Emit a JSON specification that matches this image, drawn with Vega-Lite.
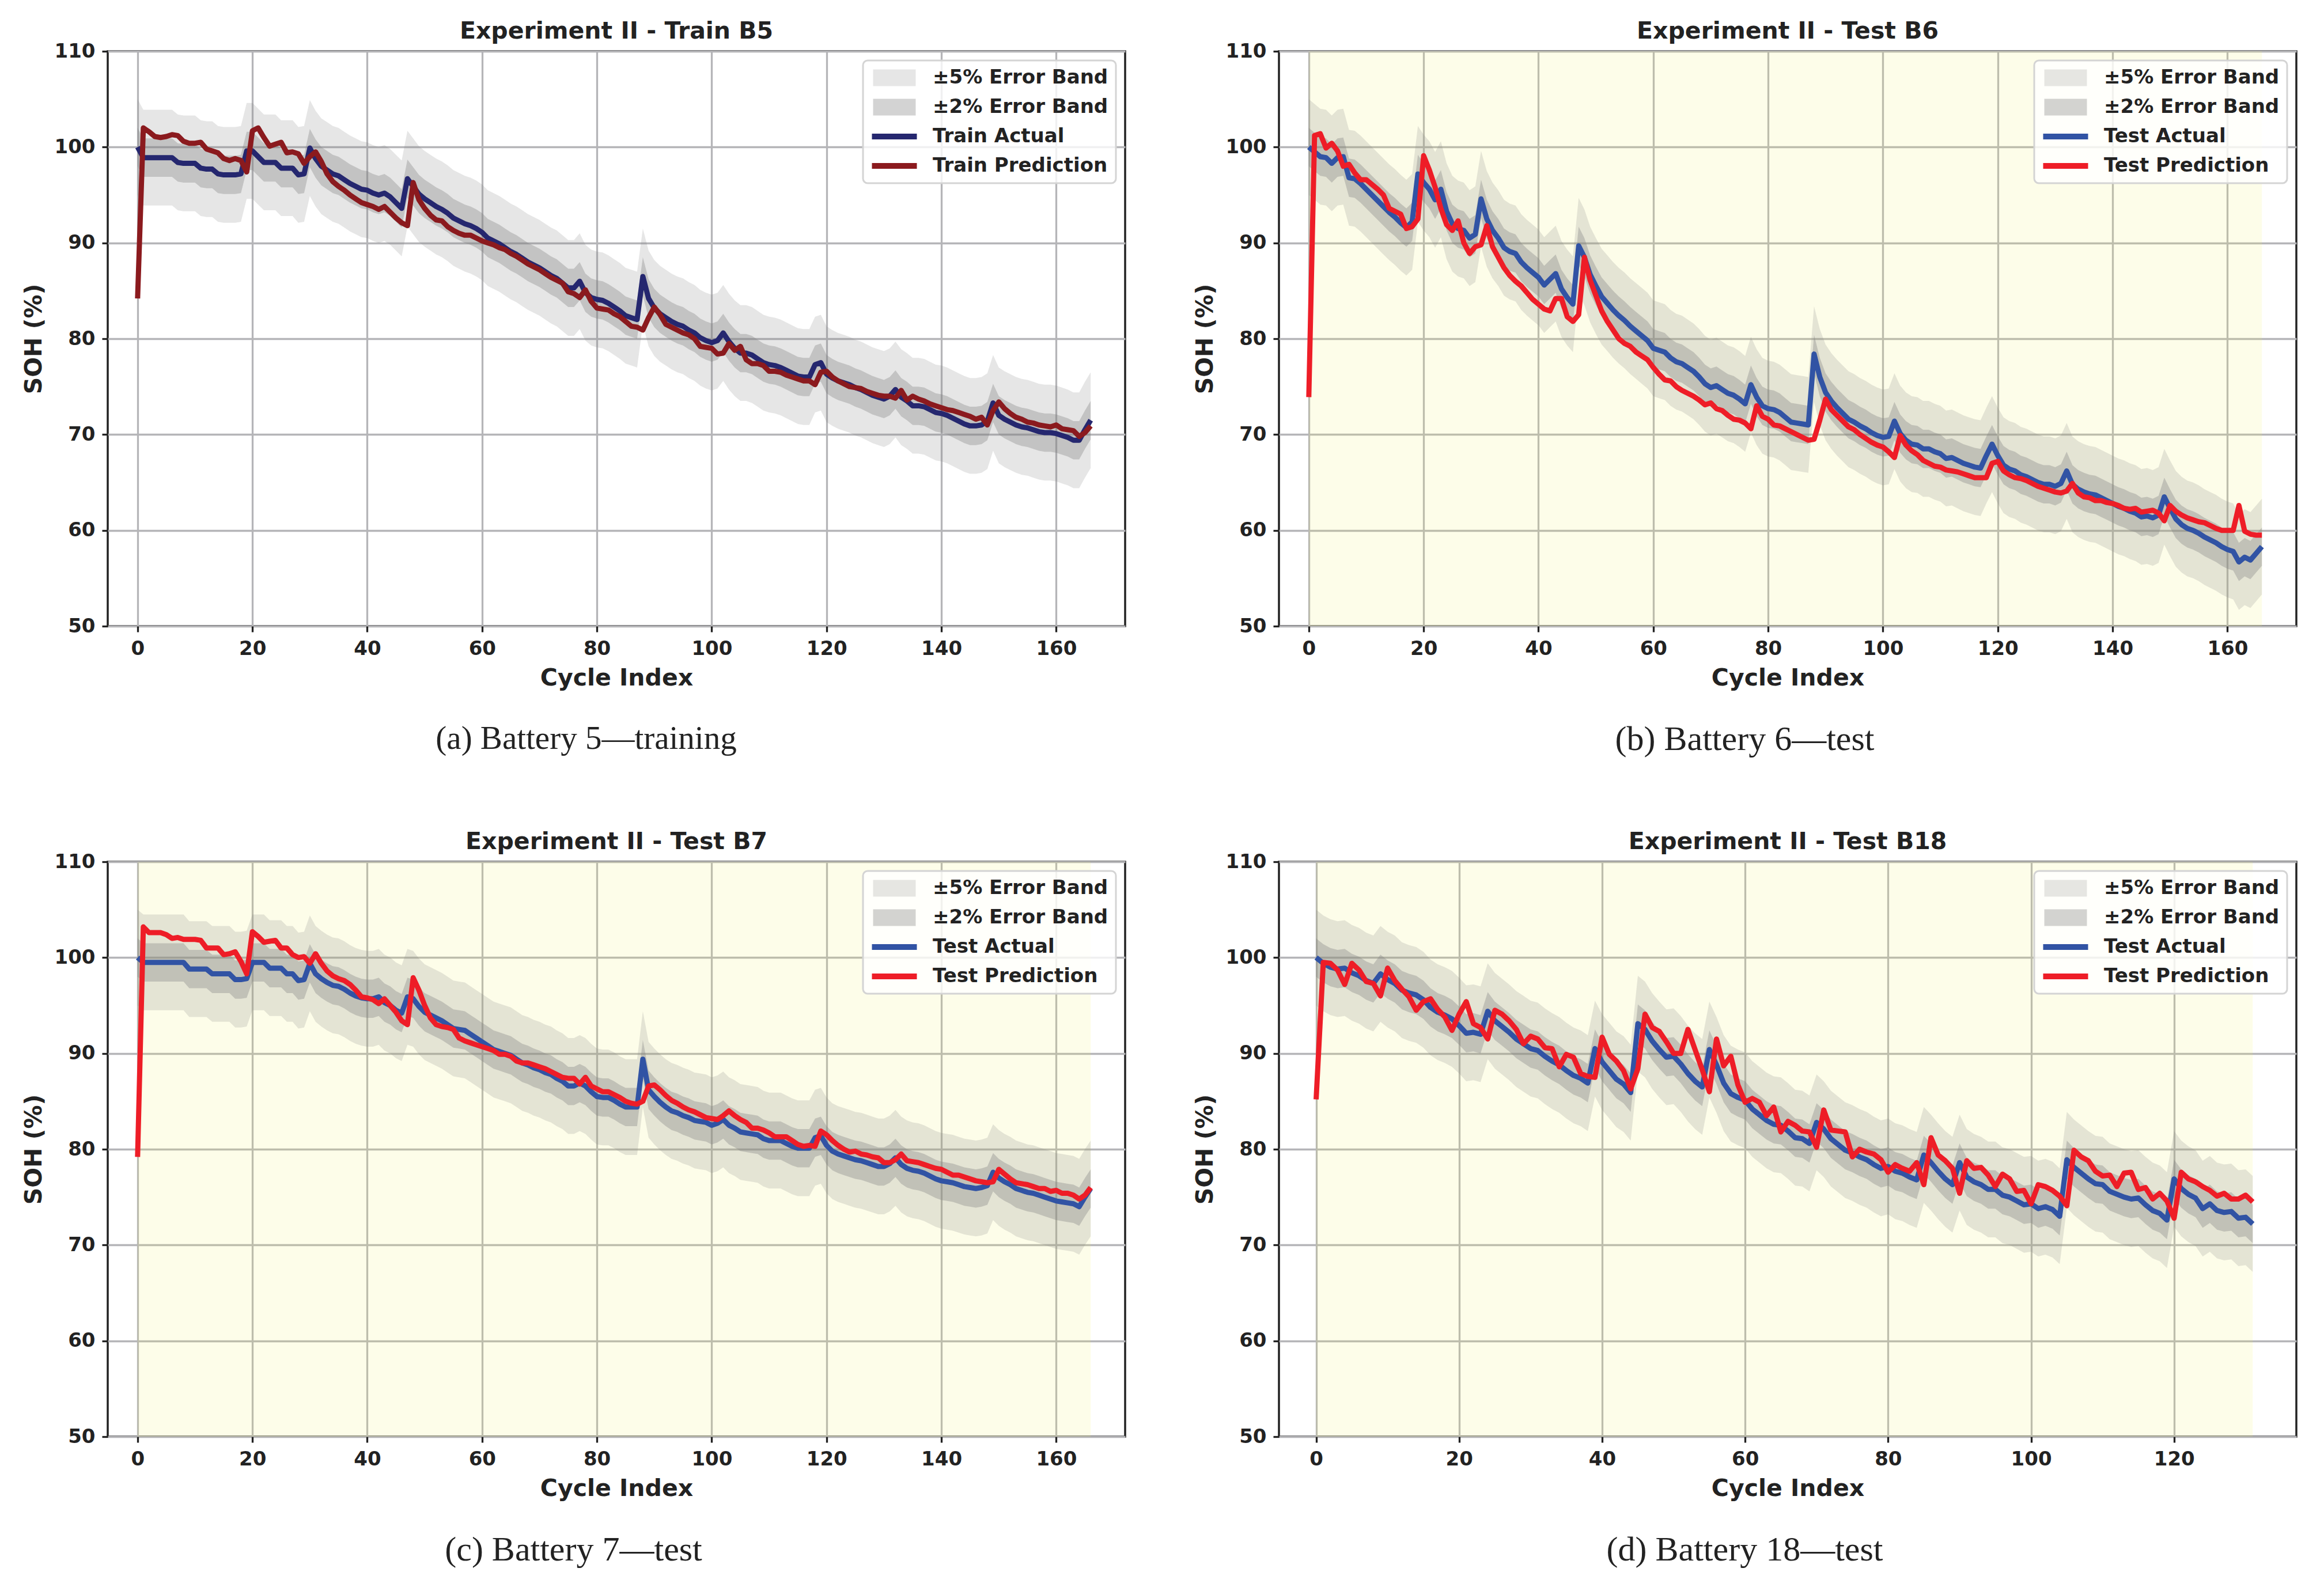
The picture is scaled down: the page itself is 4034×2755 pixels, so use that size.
{
  "$schema": "https://vega.github.io/schema/vega-lite/v6.json",
  "background": "white",
  "padding": {"left": 36, "top": 32, "right": 10, "bottom": 10},
  "datasets": {
    "A": [
      {"c":0,"a":100,"p":84.2,"l5":95,"h5":105,"l2":98,"h2":102},
      {"c":1,"a":98.9,"p":102,"l5":93.9,"h5":103.9,"l2":96.9,"h2":100.9},
      {"c":2,"a":98.9,"p":101.6,"l5":93.9,"h5":103.9,"l2":96.9,"h2":100.9},
      {"c":3,"a":98.9,"p":101.1,"l5":93.9,"h5":103.9,"l2":96.9,"h2":100.9},
      {"c":4,"a":98.9,"p":101,"l5":93.9,"h5":103.9,"l2":96.9,"h2":100.9},
      {"c":5,"a":98.9,"p":101.1,"l5":93.9,"h5":103.9,"l2":96.9,"h2":100.9},
      {"c":6,"a":98.9,"p":101.3,"l5":93.9,"h5":103.9,"l2":96.9,"h2":100.9},
      {"c":7,"a":98.4,"p":101.2,"l5":93.4,"h5":103.4,"l2":96.4,"h2":100.4},
      {"c":8,"a":98.3,"p":100.6,"l5":93.3,"h5":103.3,"l2":96.3,"h2":100.3},
      {"c":9,"a":98.3,"p":100.4,"l5":93.3,"h5":103.3,"l2":96.3,"h2":100.3},
      {"c":10,"a":98.3,"p":100.4,"l5":93.3,"h5":103.3,"l2":96.3,"h2":100.3},
      {"c":11,"a":97.8,"p":100.5,"l5":92.8,"h5":102.8,"l2":95.8,"h2":99.8},
      {"c":12,"a":97.7,"p":99.8,"l5":92.7,"h5":102.7,"l2":95.7,"h2":99.7},
      {"c":13,"a":97.7,"p":99.6,"l5":92.7,"h5":102.7,"l2":95.7,"h2":99.7},
      {"c":14,"a":97.2,"p":99.4,"l5":92.2,"h5":102.2,"l2":95.2,"h2":99.2},
      {"c":15,"a":97.1,"p":98.8,"l5":92.1,"h5":102.1,"l2":95.1,"h2":99.1},
      {"c":16,"a":97.1,"p":98.6,"l5":92.1,"h5":102.1,"l2":95.1,"h2":99.1},
      {"c":17,"a":97.1,"p":98.8,"l5":92.1,"h5":102.1,"l2":95.1,"h2":99.1},
      {"c":18,"a":97.2,"p":98.6,"l5":92.2,"h5":102.2,"l2":95.2,"h2":99.2},
      {"c":19,"a":99.6,"p":97.4,"l5":94.6,"h5":104.6,"l2":97.6,"h2":101.6},
      {"c":20,"a":99.6,"p":101.7,"l5":94.6,"h5":104.6,"l2":97.6,"h2":101.6},
      {"c":21,"a":99,"p":102,"l5":94,"h5":104,"l2":97,"h2":101},
      {"c":22,"a":98.4,"p":101,"l5":93.4,"h5":103.4,"l2":96.4,"h2":100.4},
      {"c":23,"a":98.4,"p":100.1,"l5":93.4,"h5":103.4,"l2":96.4,"h2":100.4},
      {"c":24,"a":98.4,"p":100.3,"l5":93.4,"h5":103.4,"l2":96.4,"h2":100.4},
      {"c":25,"a":97.8,"p":100.5,"l5":92.8,"h5":102.8,"l2":95.8,"h2":99.8},
      {"c":26,"a":97.8,"p":99.4,"l5":92.8,"h5":102.8,"l2":95.8,"h2":99.8},
      {"c":27,"a":97.8,"p":99.5,"l5":92.8,"h5":102.8,"l2":95.8,"h2":99.8},
      {"c":28,"a":97.1,"p":99.3,"l5":92.1,"h5":102.1,"l2":95.1,"h2":99.1},
      {"c":29,"a":97.2,"p":98.3,"l5":92.2,"h5":102.2,"l2":95.2,"h2":99.2},
      {"c":30,"a":99.9,"p":99,"l5":94.9,"h5":104.9,"l2":97.9,"h2":101.9},
      {"c":31,"a":98.8,"p":99.5,"l5":93.8,"h5":103.8,"l2":96.8,"h2":100.8},
      {"c":32,"a":98,"p":98.5,"l5":93,"h5":103,"l2":96,"h2":100},
      {"c":33,"a":97.6,"p":97.2,"l5":92.6,"h5":102.6,"l2":95.6,"h2":99.6},
      {"c":34,"a":97.2,"p":96.4,"l5":92.2,"h5":102.2,"l2":95.2,"h2":99.2},
      {"c":35,"a":97,"p":95.9,"l5":92,"h5":102,"l2":95,"h2":99},
      {"c":36,"a":96.6,"p":95.5,"l5":91.6,"h5":101.6,"l2":94.6,"h2":98.6},
      {"c":37,"a":96.2,"p":95,"l5":91.2,"h5":101.2,"l2":94.2,"h2":98.2},
      {"c":38,"a":95.9,"p":94.6,"l5":90.9,"h5":100.9,"l2":93.9,"h2":97.9},
      {"c":39,"a":95.6,"p":94.2,"l5":90.6,"h5":100.6,"l2":93.6,"h2":97.6},
      {"c":40,"a":95.5,"p":94,"l5":90.5,"h5":100.5,"l2":93.5,"h2":97.5},
      {"c":41,"a":95.2,"p":93.8,"l5":90.2,"h5":100.2,"l2":93.2,"h2":97.2},
      {"c":42,"a":95,"p":93.5,"l5":90,"h5":100,"l2":93,"h2":97},
      {"c":43,"a":95.2,"p":93.8,"l5":90.2,"h5":100.2,"l2":93.2,"h2":97.2},
      {"c":44,"a":94.8,"p":93.2,"l5":89.8,"h5":99.8,"l2":92.8,"h2":96.8},
      {"c":45,"a":94.2,"p":92.6,"l5":89.2,"h5":99.2,"l2":92.2,"h2":96.2},
      {"c":46,"a":93.6,"p":92.1,"l5":88.6,"h5":98.6,"l2":91.6,"h2":95.6},
      {"c":47,"a":96.7,"p":91.8,"l5":91.7,"h5":101.7,"l2":94.7,"h2":98.7},
      {"c":48,"a":95.9,"p":96.3,"l5":90.9,"h5":100.9,"l2":93.9,"h2":97.9},
      {"c":49,"a":95.1,"p":94.5,"l5":90.1,"h5":100.1,"l2":93.1,"h2":97.1},
      {"c":50,"a":94.6,"p":93.6,"l5":89.6,"h5":99.6,"l2":92.6,"h2":96.6},
      {"c":51,"a":94.2,"p":92.9,"l5":89.2,"h5":99.2,"l2":92.2,"h2":96.2},
      {"c":52,"a":93.8,"p":92.4,"l5":88.8,"h5":98.8,"l2":91.8,"h2":95.8},
      {"c":53,"a":93.5,"p":92.3,"l5":88.5,"h5":98.5,"l2":91.5,"h2":95.5},
      {"c":54,"a":93.1,"p":91.7,"l5":88.1,"h5":98.1,"l2":91.1,"h2":95.1},
      {"c":55,"a":92.6,"p":91.3,"l5":87.6,"h5":97.6,"l2":90.6,"h2":94.6},
      {"c":56,"a":92.3,"p":91,"l5":87.3,"h5":97.3,"l2":90.3,"h2":94.3},
      {"c":57,"a":92,"p":90.8,"l5":87,"h5":97,"l2":90,"h2":94},
      {"c":58,"a":91.8,"p":90.8,"l5":86.8,"h5":96.8,"l2":89.8,"h2":93.8},
      {"c":59,"a":91.5,"p":90.5,"l5":86.5,"h5":96.5,"l2":89.5,"h2":93.5},
      {"c":60,"a":91.1,"p":90.2,"l5":86.1,"h5":96.1,"l2":89.1,"h2":93.1},
      {"c":61,"a":90.5,"p":90,"l5":85.5,"h5":95.5,"l2":88.5,"h2":92.5},
      {"c":62,"a":90.2,"p":89.8,"l5":85.2,"h5":95.2,"l2":88.2,"h2":92.2},
      {"c":63,"a":89.9,"p":89.5,"l5":84.9,"h5":94.9,"l2":87.9,"h2":91.9},
      {"c":64,"a":89.5,"p":89.3,"l5":84.5,"h5":94.5,"l2":87.5,"h2":91.5},
      {"c":65,"a":89.1,"p":88.9,"l5":84.1,"h5":94.1,"l2":87.1,"h2":91.1},
      {"c":66,"a":88.8,"p":88.6,"l5":83.8,"h5":93.8,"l2":86.8,"h2":90.8},
      {"c":67,"a":88.4,"p":88.2,"l5":83.4,"h5":93.4,"l2":86.4,"h2":90.4},
      {"c":68,"a":88,"p":87.8,"l5":83,"h5":93,"l2":86,"h2":90},
      {"c":69,"a":87.7,"p":87.5,"l5":82.7,"h5":92.7,"l2":85.7,"h2":89.7},
      {"c":70,"a":87.4,"p":87.2,"l5":82.4,"h5":92.4,"l2":85.4,"h2":89.4},
      {"c":71,"a":87,"p":86.8,"l5":82,"h5":92,"l2":85,"h2":89},
      {"c":72,"a":86.6,"p":86.4,"l5":81.6,"h5":91.6,"l2":84.6,"h2":88.6},
      {"c":73,"a":86.3,"p":86.1,"l5":81.3,"h5":91.3,"l2":84.3,"h2":88.3},
      {"c":74,"a":85.8,"p":85.8,"l5":80.8,"h5":90.8,"l2":83.8,"h2":87.8},
      {"c":75,"a":85.3,"p":84.9,"l5":80.3,"h5":90.3,"l2":83.3,"h2":87.3},
      {"c":76,"a":85.3,"p":84.7,"l5":80.3,"h5":90.3,"l2":83.3,"h2":87.3},
      {"c":77,"a":86,"p":84.3,"l5":81,"h5":91,"l2":84,"h2":88},
      {"c":78,"a":84.8,"p":85.1,"l5":79.8,"h5":89.8,"l2":82.8,"h2":86.8},
      {"c":79,"a":84.3,"p":83.9,"l5":79.3,"h5":89.3,"l2":82.3,"h2":86.3},
      {"c":80,"a":84.1,"p":83.2,"l5":79.1,"h5":89.1,"l2":82.1,"h2":86.1},
      {"c":81,"a":84,"p":83.1,"l5":79,"h5":89,"l2":82,"h2":86},
      {"c":82,"a":83.7,"p":83,"l5":78.7,"h5":88.7,"l2":81.7,"h2":85.7},
      {"c":83,"a":83.3,"p":82.6,"l5":78.3,"h5":88.3,"l2":81.3,"h2":85.3},
      {"c":84,"a":82.9,"p":82.3,"l5":77.9,"h5":87.9,"l2":80.9,"h2":84.9},
      {"c":85,"a":82.4,"p":81.8,"l5":77.4,"h5":87.4,"l2":80.4,"h2":84.4},
      {"c":86,"a":82.2,"p":81.3,"l5":77.2,"h5":87.2,"l2":80.2,"h2":84.2},
      {"c":87,"a":82,"p":81.2,"l5":77,"h5":87,"l2":80,"h2":84},
      {"c":88,"a":86.5,"p":80.9,"l5":81.5,"h5":91.5,"l2":84.5,"h2":88.5},
      {"c":89,"a":84.2,"p":82.2,"l5":79.2,"h5":89.2,"l2":82.2,"h2":86.2},
      {"c":90,"a":83.2,"p":83.3,"l5":78.2,"h5":88.2,"l2":81.2,"h2":85.2},
      {"c":91,"a":82.6,"p":82.5,"l5":77.6,"h5":87.6,"l2":80.6,"h2":84.6},
      {"c":92,"a":82.2,"p":81.5,"l5":77.2,"h5":87.2,"l2":80.2,"h2":84.2},
      {"c":93,"a":81.8,"p":81.2,"l5":76.8,"h5":86.8,"l2":79.8,"h2":83.8},
      {"c":94,"a":81.5,"p":80.9,"l5":76.5,"h5":86.5,"l2":79.5,"h2":83.5},
      {"c":95,"a":81.3,"p":80.6,"l5":76.3,"h5":86.3,"l2":79.3,"h2":83.3},
      {"c":96,"a":80.9,"p":80.4,"l5":75.9,"h5":85.9,"l2":78.9,"h2":82.9},
      {"c":97,"a":80.6,"p":80,"l5":75.6,"h5":85.6,"l2":78.6,"h2":82.6},
      {"c":98,"a":80.1,"p":79.2,"l5":75.1,"h5":85.1,"l2":78.1,"h2":82.1},
      {"c":99,"a":79.8,"p":79.1,"l5":74.8,"h5":84.8,"l2":77.8,"h2":81.8},
      {"c":100,"a":79.6,"p":79,"l5":74.6,"h5":84.6,"l2":77.6,"h2":81.6},
      {"c":101,"a":79.8,"p":78.4,"l5":74.8,"h5":84.8,"l2":77.8,"h2":81.8},
      {"c":102,"a":80.6,"p":78.5,"l5":75.6,"h5":85.6,"l2":78.6,"h2":82.6},
      {"c":103,"a":79.7,"p":79.5,"l5":74.7,"h5":84.7,"l2":77.7,"h2":81.7},
      {"c":104,"a":79,"p":78.8,"l5":74,"h5":84,"l2":77,"h2":81},
      {"c":105,"a":78.5,"p":79.2,"l5":73.5,"h5":83.5,"l2":76.5,"h2":80.5},
      {"c":106,"a":78.5,"p":77.8,"l5":73.5,"h5":83.5,"l2":76.5,"h2":80.5},
      {"c":107,"a":78.3,"p":77.4,"l5":73.3,"h5":83.3,"l2":76.3,"h2":80.3},
      {"c":108,"a":77.9,"p":77.4,"l5":72.9,"h5":82.9,"l2":75.9,"h2":79.9},
      {"c":109,"a":77.5,"p":77.2,"l5":72.5,"h5":82.5,"l2":75.5,"h2":79.5},
      {"c":110,"a":77.3,"p":76.6,"l5":72.3,"h5":82.3,"l2":75.3,"h2":79.3},
      {"c":111,"a":77.2,"p":76.6,"l5":72.2,"h5":82.2,"l2":75.2,"h2":79.2},
      {"c":112,"a":77,"p":76.5,"l5":72,"h5":82,"l2":75,"h2":79},
      {"c":113,"a":76.7,"p":76.2,"l5":71.7,"h5":81.7,"l2":74.7,"h2":78.7},
      {"c":114,"a":76.4,"p":76,"l5":71.4,"h5":81.4,"l2":74.4,"h2":78.4},
      {"c":115,"a":76.1,"p":75.8,"l5":71.1,"h5":81.1,"l2":74.1,"h2":78.1},
      {"c":116,"a":76,"p":75.6,"l5":71,"h5":81,"l2":74,"h2":78},
      {"c":117,"a":76,"p":75.6,"l5":71,"h5":81,"l2":74,"h2":78},
      {"c":118,"a":77.3,"p":75.2,"l5":72.3,"h5":82.3,"l2":75.3,"h2":79.3},
      {"c":119,"a":77.5,"p":76.5,"l5":72.5,"h5":82.5,"l2":75.5,"h2":79.5},
      {"c":120,"a":76.3,"p":76.6,"l5":71.3,"h5":81.3,"l2":74.3,"h2":78.3},
      {"c":121,"a":75.9,"p":76,"l5":70.9,"h5":80.9,"l2":73.9,"h2":77.9},
      {"c":122,"a":75.6,"p":75.6,"l5":70.6,"h5":80.6,"l2":73.6,"h2":77.6},
      {"c":123,"a":75.4,"p":75.3,"l5":70.4,"h5":80.4,"l2":73.4,"h2":77.4},
      {"c":124,"a":75.2,"p":75,"l5":70.2,"h5":80.2,"l2":73.2,"h2":77.2},
      {"c":125,"a":74.9,"p":74.9,"l5":69.9,"h5":79.9,"l2":72.9,"h2":76.9},
      {"c":126,"a":74.7,"p":74.8,"l5":69.7,"h5":79.7,"l2":72.7,"h2":76.7},
      {"c":127,"a":74.4,"p":74.5,"l5":69.4,"h5":79.4,"l2":72.4,"h2":76.4},
      {"c":128,"a":74.1,"p":74.3,"l5":69.1,"h5":79.1,"l2":72.1,"h2":76.1},
      {"c":129,"a":73.9,"p":74.1,"l5":68.9,"h5":78.9,"l2":71.9,"h2":75.9},
      {"c":130,"a":73.7,"p":74,"l5":68.7,"h5":78.7,"l2":71.7,"h2":75.7},
      {"c":131,"a":74,"p":74,"l5":69,"h5":79,"l2":72,"h2":76},
      {"c":132,"a":74.7,"p":73.8,"l5":69.7,"h5":79.7,"l2":72.7,"h2":76.7},
      {"c":133,"a":73.9,"p":74.6,"l5":68.9,"h5":78.9,"l2":71.9,"h2":75.9},
      {"c":134,"a":73.5,"p":73.6,"l5":68.5,"h5":78.5,"l2":71.5,"h2":75.5},
      {"c":135,"a":73,"p":74,"l5":68,"h5":78,"l2":71,"h2":75},
      {"c":136,"a":73,"p":73.7,"l5":68,"h5":78,"l2":71,"h2":75},
      {"c":137,"a":72.9,"p":73.5,"l5":67.9,"h5":77.9,"l2":70.9,"h2":74.9},
      {"c":138,"a":72.6,"p":73.2,"l5":67.6,"h5":77.6,"l2":70.6,"h2":74.6},
      {"c":139,"a":72.3,"p":73,"l5":67.3,"h5":77.3,"l2":70.3,"h2":74.3},
      {"c":140,"a":72.2,"p":72.8,"l5":67.2,"h5":77.2,"l2":70.2,"h2":74.2},
      {"c":141,"a":72,"p":72.6,"l5":67,"h5":77,"l2":70,"h2":74},
      {"c":142,"a":71.7,"p":72.5,"l5":66.7,"h5":76.7,"l2":69.7,"h2":73.7},
      {"c":143,"a":71.4,"p":72.3,"l5":66.4,"h5":76.4,"l2":69.4,"h2":73.4},
      {"c":144,"a":71.1,"p":72.1,"l5":66.1,"h5":76.1,"l2":69.1,"h2":73.1},
      {"c":145,"a":70.9,"p":71.9,"l5":65.9,"h5":75.9,"l2":68.9,"h2":72.9},
      {"c":146,"a":70.9,"p":71.6,"l5":65.9,"h5":75.9,"l2":68.9,"h2":72.9},
      {"c":147,"a":71,"p":71.8,"l5":66,"h5":76,"l2":69,"h2":73},
      {"c":148,"a":71.4,"p":71,"l5":66.4,"h5":76.4,"l2":69.4,"h2":73.4},
      {"c":149,"a":73.3,"p":72.5,"l5":68.3,"h5":78.3,"l2":71.3,"h2":75.3},
      {"c":150,"a":72,"p":73.4,"l5":67,"h5":77,"l2":70,"h2":74},
      {"c":151,"a":71.6,"p":72.7,"l5":66.6,"h5":76.6,"l2":69.6,"h2":73.6},
      {"c":152,"a":71.3,"p":72.2,"l5":66.3,"h5":76.3,"l2":69.3,"h2":73.3},
      {"c":153,"a":71,"p":71.8,"l5":66,"h5":76,"l2":69,"h2":73},
      {"c":154,"a":70.8,"p":71.6,"l5":65.8,"h5":75.8,"l2":68.8,"h2":72.8},
      {"c":155,"a":70.7,"p":71.3,"l5":65.7,"h5":75.7,"l2":68.7,"h2":72.7},
      {"c":156,"a":70.5,"p":71.2,"l5":65.5,"h5":75.5,"l2":68.5,"h2":72.5},
      {"c":157,"a":70.3,"p":71,"l5":65.3,"h5":75.3,"l2":68.3,"h2":72.3},
      {"c":158,"a":70.2,"p":70.9,"l5":65.2,"h5":75.2,"l2":68.2,"h2":72.2},
      {"c":159,"a":70.2,"p":70.8,"l5":65.2,"h5":75.2,"l2":68.2,"h2":72.2},
      {"c":160,"a":70.1,"p":71,"l5":65.1,"h5":75.1,"l2":68.1,"h2":72.1},
      {"c":161,"a":69.9,"p":70.6,"l5":64.9,"h5":74.9,"l2":67.9,"h2":71.9},
      {"c":162,"a":69.7,"p":70.5,"l5":64.7,"h5":74.7,"l2":67.7,"h2":71.7},
      {"c":163,"a":69.4,"p":70.4,"l5":64.4,"h5":74.4,"l2":67.4,"h2":71.4},
      {"c":164,"a":69.4,"p":69.8,"l5":64.4,"h5":74.4,"l2":67.4,"h2":71.4},
      {"c":165,"a":70.5,"p":70.2,"l5":65.5,"h5":75.5,"l2":68.5,"h2":72.5},
      {"c":166,"a":71.5,"p":70.9,"l5":66.5,"h5":76.5,"l2":69.5,"h2":73.5}
    ],
    "B": [
      {"c":0,"a":100,"p":73.9,"l5":95,"h5":105,"l2":98,"h2":102},
      {"c":1,"a":99.5,"p":101.2,"l5":94.5,"h5":104.5,"l2":97.5,"h2":101.5},
      {"c":2,"a":99,"p":101.4,"l5":94,"h5":104,"l2":97,"h2":101},
      {"c":3,"a":98.9,"p":99.9,"l5":93.9,"h5":103.9,"l2":96.9,"h2":100.9},
      {"c":4,"a":98.3,"p":100.4,"l5":93.3,"h5":103.3,"l2":96.3,"h2":100.3},
      {"c":5,"a":98.9,"p":99.6,"l5":93.9,"h5":103.9,"l2":96.9,"h2":100.9},
      {"c":6,"a":99,"p":98,"l5":94,"h5":104,"l2":97,"h2":101},
      {"c":7,"a":96.8,"p":98.2,"l5":91.8,"h5":101.8,"l2":94.8,"h2":98.8},
      {"c":8,"a":96.7,"p":97.3,"l5":91.7,"h5":101.7,"l2":94.7,"h2":98.7},
      {"c":9,"a":96.2,"p":96.6,"l5":91.2,"h5":101.2,"l2":94.2,"h2":98.2},
      {"c":10,"a":95.6,"p":96.6,"l5":90.6,"h5":100.6,"l2":93.6,"h2":97.6},
      {"c":11,"a":95,"p":96.1,"l5":90,"h5":100,"l2":93,"h2":97},
      {"c":12,"a":94.4,"p":95.6,"l5":89.4,"h5":99.4,"l2":92.4,"h2":96.4},
      {"c":13,"a":93.8,"p":95,"l5":88.8,"h5":98.8,"l2":91.8,"h2":95.8},
      {"c":14,"a":93.2,"p":93.6,"l5":88.2,"h5":98.2,"l2":91.2,"h2":95.2},
      {"c":15,"a":92.7,"p":93.3,"l5":87.7,"h5":97.7,"l2":90.7,"h2":94.7},
      {"c":16,"a":92.1,"p":93,"l5":87.1,"h5":97.1,"l2":90.1,"h2":94.1},
      {"c":17,"a":91.6,"p":91.5,"l5":86.6,"h5":96.6,"l2":89.6,"h2":93.6},
      {"c":18,"a":92.2,"p":91.7,"l5":87.2,"h5":97.2,"l2":90.2,"h2":94.2},
      {"c":19,"a":97.2,"p":92.5,"l5":92.2,"h5":102.2,"l2":95.2,"h2":99.2},
      {"c":20,"a":96.3,"p":99.1,"l5":91.3,"h5":101.3,"l2":94.3,"h2":98.3},
      {"c":21,"a":95.6,"p":97.6,"l5":90.6,"h5":100.6,"l2":93.6,"h2":97.6},
      {"c":22,"a":94.5,"p":95.8,"l5":89.5,"h5":99.5,"l2":92.5,"h2":96.5},
      {"c":23,"a":95.6,"p":93.6,"l5":90.6,"h5":100.6,"l2":93.6,"h2":97.6},
      {"c":24,"a":93.3,"p":91.9,"l5":88.3,"h5":98.3,"l2":91.3,"h2":95.3},
      {"c":25,"a":92,"p":91.3,"l5":87,"h5":97,"l2":90,"h2":94},
      {"c":26,"a":91.5,"p":92.3,"l5":86.5,"h5":96.5,"l2":89.5,"h2":93.5},
      {"c":27,"a":91.3,"p":90,"l5":86.3,"h5":96.3,"l2":89.3,"h2":93.3},
      {"c":28,"a":90.5,"p":88.9,"l5":85.5,"h5":95.5,"l2":88.5,"h2":92.5},
      {"c":29,"a":90.9,"p":89.6,"l5":85.9,"h5":95.9,"l2":88.9,"h2":92.9},
      {"c":30,"a":94.6,"p":89.8,"l5":89.6,"h5":99.6,"l2":92.6,"h2":96.6},
      {"c":31,"a":92.5,"p":91.8,"l5":87.5,"h5":97.5,"l2":90.5,"h2":94.5},
      {"c":32,"a":91.3,"p":89.6,"l5":86.3,"h5":96.3,"l2":89.3,"h2":93.3},
      {"c":33,"a":90.5,"p":88.5,"l5":85.5,"h5":95.5,"l2":88.5,"h2":92.5},
      {"c":34,"a":89.5,"p":87.4,"l5":84.5,"h5":94.5,"l2":87.5,"h2":91.5},
      {"c":35,"a":89.1,"p":86.6,"l5":84.1,"h5":94.1,"l2":87.1,"h2":91.1},
      {"c":36,"a":88.9,"p":86,"l5":83.9,"h5":93.9,"l2":86.9,"h2":90.9},
      {"c":37,"a":88,"p":85.5,"l5":83,"h5":93,"l2":86,"h2":90},
      {"c":38,"a":87.4,"p":84.8,"l5":82.4,"h5":92.4,"l2":85.4,"h2":89.4},
      {"c":39,"a":86.9,"p":84.1,"l5":81.9,"h5":91.9,"l2":84.9,"h2":88.9},
      {"c":40,"a":86.4,"p":83.6,"l5":81.4,"h5":91.4,"l2":84.4,"h2":88.4},
      {"c":41,"a":85.6,"p":83.1,"l5":80.6,"h5":90.6,"l2":83.6,"h2":87.6},
      {"c":42,"a":86.2,"p":82.9,"l5":81.2,"h5":91.2,"l2":84.2,"h2":88.2},
      {"c":43,"a":86.8,"p":84.2,"l5":81.8,"h5":91.8,"l2":84.8,"h2":88.8},
      {"c":44,"a":85.2,"p":84.2,"l5":80.2,"h5":90.2,"l2":83.2,"h2":87.2},
      {"c":45,"a":84.3,"p":82.3,"l5":79.3,"h5":89.3,"l2":82.3,"h2":86.3},
      {"c":46,"a":83.6,"p":81.8,"l5":78.6,"h5":88.6,"l2":81.6,"h2":85.6},
      {"c":47,"a":89.7,"p":82.5,"l5":84.7,"h5":94.7,"l2":87.7,"h2":91.7},
      {"c":48,"a":88.5,"p":88.5,"l5":83.5,"h5":93.5,"l2":86.5,"h2":90.5},
      {"c":49,"a":86.7,"p":86.1,"l5":81.7,"h5":91.7,"l2":84.7,"h2":88.7},
      {"c":50,"a":85.5,"p":84.5,"l5":80.5,"h5":90.5,"l2":83.5,"h2":87.5},
      {"c":51,"a":84.4,"p":82.9,"l5":79.4,"h5":89.4,"l2":82.4,"h2":86.4},
      {"c":52,"a":83.7,"p":81.8,"l5":78.7,"h5":88.7,"l2":81.7,"h2":85.7},
      {"c":53,"a":83,"p":80.9,"l5":78,"h5":88,"l2":81,"h2":85},
      {"c":54,"a":82.4,"p":80,"l5":77.4,"h5":87.4,"l2":80.4,"h2":84.4},
      {"c":55,"a":81.9,"p":79.5,"l5":76.9,"h5":86.9,"l2":79.9,"h2":83.9},
      {"c":56,"a":81.3,"p":79.2,"l5":76.3,"h5":86.3,"l2":79.3,"h2":83.3},
      {"c":57,"a":80.8,"p":78.6,"l5":75.8,"h5":85.8,"l2":78.8,"h2":82.8},
      {"c":58,"a":80.3,"p":78.2,"l5":75.3,"h5":85.3,"l2":78.3,"h2":82.3},
      {"c":59,"a":79.8,"p":77.8,"l5":74.8,"h5":84.8,"l2":77.8,"h2":81.8},
      {"c":60,"a":79,"p":77,"l5":74,"h5":84,"l2":77,"h2":81},
      {"c":61,"a":78.8,"p":76.3,"l5":73.8,"h5":83.8,"l2":76.8,"h2":80.8},
      {"c":62,"a":78.6,"p":75.7,"l5":73.6,"h5":83.6,"l2":76.6,"h2":80.6},
      {"c":63,"a":78,"p":75.6,"l5":73,"h5":83,"l2":76,"h2":80},
      {"c":64,"a":77.6,"p":75,"l5":72.6,"h5":82.6,"l2":75.6,"h2":79.6},
      {"c":65,"a":77.4,"p":74.6,"l5":72.4,"h5":82.4,"l2":75.4,"h2":79.4},
      {"c":66,"a":77,"p":74.3,"l5":72,"h5":82,"l2":75,"h2":79},
      {"c":67,"a":76.6,"p":74,"l5":71.6,"h5":81.6,"l2":74.6,"h2":78.6},
      {"c":68,"a":76,"p":73.6,"l5":71,"h5":81,"l2":74,"h2":78},
      {"c":69,"a":75.3,"p":73.1,"l5":70.3,"h5":80.3,"l2":73.3,"h2":77.3},
      {"c":70,"a":74.9,"p":73.3,"l5":69.9,"h5":79.9,"l2":72.9,"h2":76.9},
      {"c":71,"a":75.1,"p":72.7,"l5":70.1,"h5":80.1,"l2":73.1,"h2":77.1},
      {"c":72,"a":74.7,"p":72.5,"l5":69.7,"h5":79.7,"l2":72.7,"h2":76.7},
      {"c":73,"a":74.3,"p":72,"l5":69.3,"h5":79.3,"l2":72.3,"h2":76.3},
      {"c":74,"a":74.1,"p":71.6,"l5":69.1,"h5":79.1,"l2":72.1,"h2":76.1},
      {"c":75,"a":73.7,"p":71.5,"l5":68.7,"h5":78.7,"l2":71.7,"h2":75.7},
      {"c":76,"a":73.2,"p":71.2,"l5":68.2,"h5":78.2,"l2":71.2,"h2":75.2},
      {"c":77,"a":75.2,"p":70.6,"l5":70.2,"h5":80.2,"l2":73.2,"h2":77.2},
      {"c":78,"a":73.9,"p":73,"l5":68.9,"h5":78.9,"l2":71.9,"h2":75.9},
      {"c":79,"a":73,"p":71.9,"l5":68,"h5":78,"l2":71,"h2":75},
      {"c":80,"a":72.7,"p":71.6,"l5":67.7,"h5":77.7,"l2":70.7,"h2":74.7},
      {"c":81,"a":72.6,"p":71,"l5":67.6,"h5":77.6,"l2":70.6,"h2":74.6},
      {"c":82,"a":72.3,"p":70.9,"l5":67.3,"h5":77.3,"l2":70.3,"h2":74.3},
      {"c":83,"a":71.8,"p":70.6,"l5":66.8,"h5":76.8,"l2":69.8,"h2":73.8},
      {"c":84,"a":71.3,"p":70.3,"l5":66.3,"h5":76.3,"l2":69.3,"h2":73.3},
      {"c":85,"a":71.2,"p":70,"l5":66.2,"h5":76.2,"l2":69.2,"h2":73.2},
      {"c":86,"a":71.1,"p":69.7,"l5":66.1,"h5":76.1,"l2":69.1,"h2":73.1},
      {"c":87,"a":71,"p":69.4,"l5":66,"h5":76,"l2":69,"h2":73},
      {"c":88,"a":78.4,"p":69.5,"l5":73.4,"h5":83.4,"l2":76.4,"h2":80.4},
      {"c":89,"a":76,"p":71.5,"l5":71,"h5":81,"l2":74,"h2":78},
      {"c":90,"a":74.4,"p":73.7,"l5":69.4,"h5":79.4,"l2":72.4,"h2":76.4},
      {"c":91,"a":73.5,"p":72.6,"l5":68.5,"h5":78.5,"l2":71.5,"h2":75.5},
      {"c":92,"a":72.8,"p":72,"l5":67.8,"h5":77.8,"l2":70.8,"h2":74.8},
      {"c":93,"a":72.2,"p":71.4,"l5":67.2,"h5":77.2,"l2":70.2,"h2":74.2},
      {"c":94,"a":71.6,"p":70.8,"l5":66.6,"h5":76.6,"l2":69.6,"h2":73.6},
      {"c":95,"a":71.3,"p":70.5,"l5":66.3,"h5":76.3,"l2":69.3,"h2":73.3},
      {"c":96,"a":70.9,"p":70,"l5":65.9,"h5":75.9,"l2":68.9,"h2":72.9},
      {"c":97,"a":70.6,"p":69.6,"l5":65.6,"h5":75.6,"l2":68.6,"h2":72.6},
      {"c":98,"a":70.2,"p":69.2,"l5":65.2,"h5":75.2,"l2":68.2,"h2":72.2},
      {"c":99,"a":69.9,"p":68.9,"l5":64.9,"h5":74.9,"l2":67.9,"h2":71.9},
      {"c":100,"a":69.7,"p":68.7,"l5":64.7,"h5":74.7,"l2":67.7,"h2":71.7},
      {"c":101,"a":69.8,"p":68.2,"l5":64.8,"h5":74.8,"l2":67.8,"h2":71.8},
      {"c":102,"a":71.4,"p":67.6,"l5":66.4,"h5":76.4,"l2":69.4,"h2":73.4},
      {"c":103,"a":70.1,"p":69.9,"l5":65.1,"h5":75.1,"l2":68.1,"h2":72.1},
      {"c":104,"a":69.4,"p":68.9,"l5":64.4,"h5":74.4,"l2":67.4,"h2":71.4},
      {"c":105,"a":69,"p":68.3,"l5":64,"h5":74,"l2":67,"h2":71},
      {"c":106,"a":68.9,"p":67.9,"l5":63.9,"h5":73.9,"l2":66.9,"h2":70.9},
      {"c":107,"a":68.5,"p":67.3,"l5":63.5,"h5":73.5,"l2":66.5,"h2":70.5},
      {"c":108,"a":68.5,"p":67,"l5":63.5,"h5":73.5,"l2":66.5,"h2":70.5},
      {"c":109,"a":68.2,"p":66.7,"l5":63.2,"h5":73.2,"l2":66.2,"h2":70.2},
      {"c":110,"a":68,"p":66.6,"l5":63,"h5":73,"l2":66,"h2":70},
      {"c":111,"a":67.5,"p":66.3,"l5":62.5,"h5":72.5,"l2":65.5,"h2":69.5},
      {"c":112,"a":67.6,"p":66.2,"l5":62.6,"h5":72.6,"l2":65.6,"h2":69.6},
      {"c":113,"a":67.3,"p":66.1,"l5":62.3,"h5":72.3,"l2":65.3,"h2":69.3},
      {"c":114,"a":67,"p":65.9,"l5":62,"h5":72,"l2":65,"h2":69},
      {"c":115,"a":66.8,"p":65.7,"l5":61.8,"h5":71.8,"l2":64.8,"h2":68.8},
      {"c":116,"a":66.6,"p":65.5,"l5":61.6,"h5":71.6,"l2":64.6,"h2":68.6},
      {"c":117,"a":66.5,"p":65.5,"l5":61.5,"h5":71.5,"l2":64.5,"h2":68.5},
      {"c":118,"a":67.8,"p":65.5,"l5":62.8,"h5":72.8,"l2":65.8,"h2":69.8},
      {"c":119,"a":69,"p":67,"l5":64,"h5":74,"l2":67,"h2":71},
      {"c":120,"a":67.8,"p":67.2,"l5":62.8,"h5":72.8,"l2":65.8,"h2":69.8},
      {"c":121,"a":66.8,"p":66.2,"l5":61.8,"h5":71.8,"l2":64.8,"h2":68.8},
      {"c":122,"a":66.4,"p":65.8,"l5":61.4,"h5":71.4,"l2":64.4,"h2":68.4},
      {"c":123,"a":66.2,"p":65.5,"l5":61.2,"h5":71.2,"l2":64.2,"h2":68.2},
      {"c":124,"a":65.8,"p":65.4,"l5":60.8,"h5":70.8,"l2":63.8,"h2":67.8},
      {"c":125,"a":65.6,"p":65.2,"l5":60.6,"h5":70.6,"l2":63.6,"h2":67.6},
      {"c":126,"a":65.3,"p":64.9,"l5":60.3,"h5":70.3,"l2":63.3,"h2":67.3},
      {"c":127,"a":65,"p":64.6,"l5":60,"h5":70,"l2":63,"h2":67},
      {"c":128,"a":64.8,"p":64.4,"l5":59.8,"h5":69.8,"l2":62.8,"h2":66.8},
      {"c":129,"a":64.8,"p":64.2,"l5":59.8,"h5":69.8,"l2":62.8,"h2":66.8},
      {"c":130,"a":64.6,"p":64,"l5":59.6,"h5":69.6,"l2":62.6,"h2":66.6},
      {"c":131,"a":64.9,"p":63.9,"l5":59.9,"h5":69.9,"l2":62.9,"h2":66.9},
      {"c":132,"a":66.2,"p":64.1,"l5":61.2,"h5":71.2,"l2":64.2,"h2":68.2},
      {"c":133,"a":64.8,"p":64.9,"l5":59.8,"h5":69.8,"l2":62.8,"h2":66.8},
      {"c":134,"a":64.3,"p":63.9,"l5":59.3,"h5":69.3,"l2":62.3,"h2":66.3},
      {"c":135,"a":64,"p":63.5,"l5":59,"h5":69,"l2":62,"h2":66},
      {"c":136,"a":63.8,"p":63.4,"l5":58.8,"h5":68.8,"l2":61.8,"h2":65.8},
      {"c":137,"a":63.7,"p":63.1,"l5":58.7,"h5":68.7,"l2":61.7,"h2":65.7},
      {"c":138,"a":63.4,"p":63.1,"l5":58.4,"h5":68.4,"l2":61.4,"h2":65.4},
      {"c":139,"a":63.1,"p":62.9,"l5":58.1,"h5":68.1,"l2":61.1,"h2":65.1},
      {"c":140,"a":62.8,"p":62.8,"l5":57.8,"h5":67.8,"l2":60.8,"h2":64.8},
      {"c":141,"a":62.5,"p":62.6,"l5":57.5,"h5":67.5,"l2":60.5,"h2":64.5},
      {"c":142,"a":62.3,"p":62.3,"l5":57.3,"h5":67.3,"l2":60.3,"h2":64.3},
      {"c":143,"a":62,"p":62.2,"l5":57,"h5":67,"l2":60,"h2":64},
      {"c":144,"a":61.8,"p":62.3,"l5":56.8,"h5":66.8,"l2":59.8,"h2":63.8},
      {"c":145,"a":61.4,"p":61.9,"l5":56.4,"h5":66.4,"l2":59.4,"h2":63.4},
      {"c":146,"a":61.5,"p":62,"l5":56.5,"h5":66.5,"l2":59.5,"h2":63.5},
      {"c":147,"a":61.3,"p":62.1,"l5":56.3,"h5":66.3,"l2":59.3,"h2":63.3},
      {"c":148,"a":61.6,"p":61.8,"l5":56.6,"h5":66.6,"l2":59.6,"h2":63.6},
      {"c":149,"a":63.5,"p":61,"l5":58.5,"h5":68.5,"l2":61.5,"h2":65.5},
      {"c":150,"a":62.3,"p":62.6,"l5":57.3,"h5":67.3,"l2":60.3,"h2":64.3},
      {"c":151,"a":61.2,"p":62,"l5":56.2,"h5":66.2,"l2":59.2,"h2":63.2},
      {"c":152,"a":60.6,"p":61.6,"l5":55.6,"h5":65.6,"l2":58.6,"h2":62.6},
      {"c":153,"a":60.2,"p":61.3,"l5":55.2,"h5":65.2,"l2":58.2,"h2":62.2},
      {"c":154,"a":60,"p":61.1,"l5":55,"h5":65,"l2":58,"h2":62},
      {"c":155,"a":59.7,"p":60.9,"l5":54.7,"h5":64.7,"l2":57.7,"h2":61.7},
      {"c":156,"a":59.3,"p":60.8,"l5":54.3,"h5":64.3,"l2":57.3,"h2":61.3},
      {"c":157,"a":59,"p":60.5,"l5":54,"h5":64,"l2":57,"h2":61},
      {"c":158,"a":58.7,"p":60.2,"l5":53.7,"h5":63.7,"l2":56.7,"h2":60.7},
      {"c":159,"a":58.3,"p":60,"l5":53.3,"h5":63.3,"l2":56.3,"h2":60.3},
      {"c":160,"a":58,"p":60,"l5":53,"h5":63,"l2":56,"h2":60},
      {"c":161,"a":57.8,"p":60,"l5":52.8,"h5":62.8,"l2":55.8,"h2":59.8},
      {"c":162,"a":56.7,"p":62.6,"l5":51.7,"h5":61.7,"l2":54.7,"h2":58.7},
      {"c":163,"a":57.2,"p":59.9,"l5":52.2,"h5":62.2,"l2":55.2,"h2":59.2},
      {"c":164,"a":56.9,"p":59.6,"l5":51.9,"h5":61.9,"l2":54.9,"h2":58.9},
      {"c":165,"a":57.6,"p":59.5,"l5":52.6,"h5":62.6,"l2":55.6,"h2":59.6},
      {"c":166,"a":58.3,"p":59.5,"l5":53.3,"h5":63.3,"l2":56.3,"h2":60.3}
    ],
    "C": [
      {"c":0,"a":100,"p":79.2,"l5":95,"h5":105,"l2":98,"h2":102},
      {"c":1,"a":99.5,"p":103.2,"l5":94.5,"h5":104.5,"l2":97.5,"h2":101.5},
      {"c":2,"a":99.5,"p":102.6,"l5":94.5,"h5":104.5,"l2":97.5,"h2":101.5},
      {"c":3,"a":99.5,"p":102.6,"l5":94.5,"h5":104.5,"l2":97.5,"h2":101.5},
      {"c":4,"a":99.5,"p":102.6,"l5":94.5,"h5":104.5,"l2":97.5,"h2":101.5},
      {"c":5,"a":99.5,"p":102.4,"l5":94.5,"h5":104.5,"l2":97.5,"h2":101.5},
      {"c":6,"a":99.5,"p":102,"l5":94.5,"h5":104.5,"l2":97.5,"h2":101.5},
      {"c":7,"a":99.5,"p":102.1,"l5":94.5,"h5":104.5,"l2":97.5,"h2":101.5},
      {"c":8,"a":99.5,"p":101.9,"l5":94.5,"h5":104.5,"l2":97.5,"h2":101.5},
      {"c":9,"a":98.8,"p":101.9,"l5":93.8,"h5":103.8,"l2":96.8,"h2":100.8},
      {"c":10,"a":98.8,"p":101.9,"l5":93.8,"h5":103.8,"l2":96.8,"h2":100.8},
      {"c":11,"a":98.8,"p":101.8,"l5":93.8,"h5":103.8,"l2":96.8,"h2":100.8},
      {"c":12,"a":98.8,"p":101,"l5":93.8,"h5":103.8,"l2":96.8,"h2":100.8},
      {"c":13,"a":98.3,"p":101,"l5":93.3,"h5":103.3,"l2":96.3,"h2":100.3},
      {"c":14,"a":98.3,"p":101,"l5":93.3,"h5":103.3,"l2":96.3,"h2":100.3},
      {"c":15,"a":98.3,"p":100.3,"l5":93.3,"h5":103.3,"l2":96.3,"h2":100.3},
      {"c":16,"a":98.3,"p":100.4,"l5":93.3,"h5":103.3,"l2":96.3,"h2":100.3},
      {"c":17,"a":97.7,"p":100.6,"l5":92.7,"h5":102.7,"l2":95.7,"h2":99.7},
      {"c":18,"a":97.7,"p":99.6,"l5":92.7,"h5":102.7,"l2":95.7,"h2":99.7},
      {"c":19,"a":97.8,"p":98.3,"l5":92.8,"h5":102.8,"l2":95.8,"h2":99.8},
      {"c":20,"a":99.5,"p":102.7,"l5":94.5,"h5":104.5,"l2":97.5,"h2":101.5},
      {"c":21,"a":99.5,"p":102.2,"l5":94.5,"h5":104.5,"l2":97.5,"h2":101.5},
      {"c":22,"a":99.5,"p":101.6,"l5":94.5,"h5":104.5,"l2":97.5,"h2":101.5},
      {"c":23,"a":98.9,"p":101.7,"l5":93.9,"h5":103.9,"l2":96.9,"h2":100.9},
      {"c":24,"a":98.9,"p":101.8,"l5":93.9,"h5":103.9,"l2":96.9,"h2":100.9},
      {"c":25,"a":98.9,"p":101,"l5":93.9,"h5":103.9,"l2":96.9,"h2":100.9},
      {"c":26,"a":98.3,"p":101,"l5":93.3,"h5":103.3,"l2":96.3,"h2":100.3},
      {"c":27,"a":98.3,"p":100.3,"l5":93.3,"h5":103.3,"l2":96.3,"h2":100.3},
      {"c":28,"a":97.6,"p":100,"l5":92.6,"h5":102.6,"l2":95.6,"h2":99.6},
      {"c":29,"a":97.7,"p":100.1,"l5":92.7,"h5":102.7,"l2":95.7,"h2":99.7},
      {"c":30,"a":99.4,"p":99.4,"l5":94.4,"h5":104.4,"l2":97.4,"h2":101.4},
      {"c":31,"a":98.3,"p":100.4,"l5":93.3,"h5":103.3,"l2":96.3,"h2":100.3},
      {"c":32,"a":97.8,"p":99.4,"l5":92.8,"h5":102.8,"l2":95.8,"h2":99.8},
      {"c":33,"a":97.4,"p":98.6,"l5":92.4,"h5":102.4,"l2":95.4,"h2":99.4},
      {"c":34,"a":97.1,"p":98.1,"l5":92.1,"h5":102.1,"l2":95.1,"h2":99.1},
      {"c":35,"a":97,"p":97.8,"l5":92,"h5":102,"l2":95,"h2":99},
      {"c":36,"a":96.7,"p":97.6,"l5":91.7,"h5":101.7,"l2":94.7,"h2":98.7},
      {"c":37,"a":96.3,"p":97.2,"l5":91.3,"h5":101.3,"l2":94.3,"h2":98.3},
      {"c":38,"a":96,"p":96.6,"l5":91,"h5":101,"l2":94,"h2":98},
      {"c":39,"a":95.8,"p":95.9,"l5":90.8,"h5":100.8,"l2":93.8,"h2":97.8},
      {"c":40,"a":95.7,"p":95.8,"l5":90.7,"h5":100.7,"l2":93.7,"h2":97.7},
      {"c":41,"a":95.7,"p":95.6,"l5":90.7,"h5":100.7,"l2":93.7,"h2":97.7},
      {"c":42,"a":95.9,"p":95.2,"l5":90.9,"h5":100.9,"l2":93.9,"h2":97.9},
      {"c":43,"a":95.3,"p":95.7,"l5":90.3,"h5":100.3,"l2":93.3,"h2":97.3},
      {"c":44,"a":95,"p":95,"l5":90,"h5":100,"l2":93,"h2":97},
      {"c":45,"a":94.5,"p":94.3,"l5":89.5,"h5":99.5,"l2":92.5,"h2":96.5},
      {"c":46,"a":94.2,"p":93.4,"l5":89.2,"h5":99.2,"l2":92.2,"h2":96.2},
      {"c":47,"a":95.9,"p":93,"l5":90.9,"h5":100.9,"l2":93.9,"h2":97.9},
      {"c":48,"a":95.7,"p":97.9,"l5":90.7,"h5":100.7,"l2":93.7,"h2":97.7},
      {"c":49,"a":94.9,"p":96.6,"l5":89.9,"h5":99.9,"l2":92.9,"h2":96.9},
      {"c":50,"a":94.3,"p":95,"l5":89.3,"h5":99.3,"l2":92.3,"h2":96.3},
      {"c":51,"a":94,"p":93.7,"l5":89,"h5":99,"l2":92,"h2":96},
      {"c":52,"a":93.7,"p":93,"l5":88.7,"h5":98.7,"l2":91.7,"h2":95.7},
      {"c":53,"a":93.4,"p":92.8,"l5":88.4,"h5":98.4,"l2":91.4,"h2":95.4},
      {"c":54,"a":93,"p":92.7,"l5":88,"h5":98,"l2":91,"h2":95},
      {"c":55,"a":92.6,"p":92.5,"l5":87.6,"h5":97.6,"l2":90.6,"h2":94.6},
      {"c":56,"a":92.5,"p":91.6,"l5":87.5,"h5":97.5,"l2":90.5,"h2":94.5},
      {"c":57,"a":92.4,"p":91.3,"l5":87.4,"h5":97.4,"l2":90.4,"h2":94.4},
      {"c":58,"a":92,"p":91.1,"l5":87,"h5":97,"l2":90,"h2":94},
      {"c":59,"a":91.6,"p":90.9,"l5":86.6,"h5":96.6,"l2":89.6,"h2":93.6},
      {"c":60,"a":91.2,"p":90.7,"l5":86.2,"h5":96.2,"l2":89.2,"h2":93.2},
      {"c":61,"a":90.8,"p":90.5,"l5":85.8,"h5":95.8,"l2":88.8,"h2":92.8},
      {"c":62,"a":90.4,"p":90.3,"l5":85.4,"h5":95.4,"l2":88.4,"h2":92.4},
      {"c":63,"a":90.2,"p":89.9,"l5":85.2,"h5":95.2,"l2":88.2,"h2":92.2},
      {"c":64,"a":90,"p":89.9,"l5":85,"h5":95,"l2":88,"h2":92},
      {"c":65,"a":89.8,"p":89.7,"l5":84.8,"h5":94.8,"l2":87.8,"h2":91.8},
      {"c":66,"a":89.4,"p":89.2,"l5":84.4,"h5":94.4,"l2":87.4,"h2":91.4},
      {"c":67,"a":89,"p":89,"l5":84,"h5":94,"l2":87,"h2":91},
      {"c":68,"a":88.8,"p":89,"l5":83.8,"h5":93.8,"l2":86.8,"h2":90.8},
      {"c":69,"a":88.5,"p":88.8,"l5":83.5,"h5":93.5,"l2":86.5,"h2":90.5},
      {"c":70,"a":88.3,"p":88.6,"l5":83.3,"h5":93.3,"l2":86.3,"h2":90.3},
      {"c":71,"a":88,"p":88.4,"l5":83,"h5":93,"l2":86,"h2":90},
      {"c":72,"a":87.8,"p":88.1,"l5":82.8,"h5":92.8,"l2":85.8,"h2":89.8},
      {"c":73,"a":87.4,"p":87.8,"l5":82.4,"h5":92.4,"l2":85.4,"h2":89.4},
      {"c":74,"a":87.1,"p":87.5,"l5":82.1,"h5":92.1,"l2":85.1,"h2":89.1},
      {"c":75,"a":86.6,"p":87.4,"l5":81.6,"h5":91.6,"l2":84.6,"h2":88.6},
      {"c":76,"a":86.6,"p":87.4,"l5":81.6,"h5":91.6,"l2":84.6,"h2":88.6},
      {"c":77,"a":86.9,"p":86.8,"l5":81.9,"h5":91.9,"l2":84.9,"h2":88.9},
      {"c":78,"a":86.6,"p":87.5,"l5":81.6,"h5":91.6,"l2":84.6,"h2":88.6},
      {"c":79,"a":86,"p":86.6,"l5":81,"h5":91,"l2":84,"h2":88},
      {"c":80,"a":85.5,"p":86.3,"l5":80.5,"h5":90.5,"l2":83.5,"h2":87.5},
      {"c":81,"a":85.4,"p":86,"l5":80.4,"h5":90.4,"l2":83.4,"h2":87.4},
      {"c":82,"a":85.4,"p":86,"l5":80.4,"h5":90.4,"l2":83.4,"h2":87.4},
      {"c":83,"a":85.1,"p":85.7,"l5":80.1,"h5":90.1,"l2":83.1,"h2":87.1},
      {"c":84,"a":84.7,"p":85.4,"l5":79.7,"h5":89.7,"l2":82.7,"h2":86.7},
      {"c":85,"a":84.4,"p":85,"l5":79.4,"h5":89.4,"l2":82.4,"h2":86.4},
      {"c":86,"a":84.4,"p":84.8,"l5":79.4,"h5":89.4,"l2":82.4,"h2":86.4},
      {"c":87,"a":84.4,"p":84.7,"l5":79.4,"h5":89.4,"l2":82.4,"h2":86.4},
      {"c":88,"a":89.4,"p":85,"l5":84.4,"h5":94.4,"l2":87.4,"h2":91.4},
      {"c":89,"a":86.2,"p":86.6,"l5":81.2,"h5":91.2,"l2":84.2,"h2":88.2},
      {"c":90,"a":85.5,"p":86.7,"l5":80.5,"h5":90.5,"l2":83.5,"h2":87.5},
      {"c":91,"a":84.9,"p":86.2,"l5":79.9,"h5":89.9,"l2":82.9,"h2":86.9},
      {"c":92,"a":84.4,"p":85.6,"l5":79.4,"h5":89.4,"l2":82.4,"h2":86.4},
      {"c":93,"a":84,"p":85.1,"l5":79,"h5":89,"l2":82,"h2":86},
      {"c":94,"a":83.8,"p":84.8,"l5":78.8,"h5":88.8,"l2":81.8,"h2":85.8},
      {"c":95,"a":83.5,"p":84.4,"l5":78.5,"h5":88.5,"l2":81.5,"h2":85.5},
      {"c":96,"a":83.3,"p":84.1,"l5":78.3,"h5":88.3,"l2":81.3,"h2":85.3},
      {"c":97,"a":83,"p":83.9,"l5":78,"h5":88,"l2":81,"h2":85},
      {"c":98,"a":82.9,"p":83.6,"l5":77.9,"h5":87.9,"l2":80.9,"h2":84.9},
      {"c":99,"a":82.8,"p":83.3,"l5":77.8,"h5":87.8,"l2":80.8,"h2":84.8},
      {"c":100,"a":82.5,"p":83.2,"l5":77.5,"h5":87.5,"l2":80.5,"h2":84.5},
      {"c":101,"a":82.7,"p":83.1,"l5":77.7,"h5":87.7,"l2":80.7,"h2":84.7},
      {"c":102,"a":83.1,"p":83.5,"l5":78.1,"h5":88.1,"l2":81.1,"h2":85.1},
      {"c":103,"a":82.5,"p":84,"l5":77.5,"h5":87.5,"l2":80.5,"h2":84.5},
      {"c":104,"a":82.2,"p":83.5,"l5":77.2,"h5":87.2,"l2":80.2,"h2":84.2},
      {"c":105,"a":81.8,"p":83.1,"l5":76.8,"h5":86.8,"l2":79.8,"h2":83.8},
      {"c":106,"a":81.7,"p":82.8,"l5":76.7,"h5":86.7,"l2":79.7,"h2":83.7},
      {"c":107,"a":81.6,"p":82.2,"l5":76.6,"h5":86.6,"l2":79.6,"h2":83.6},
      {"c":108,"a":81.5,"p":82.2,"l5":76.5,"h5":86.5,"l2":79.5,"h2":83.5},
      {"c":109,"a":81.1,"p":82,"l5":76.1,"h5":86.1,"l2":79.1,"h2":83.1},
      {"c":110,"a":80.9,"p":81.7,"l5":75.9,"h5":85.9,"l2":78.9,"h2":82.9},
      {"c":111,"a":80.9,"p":81.3,"l5":75.9,"h5":85.9,"l2":78.9,"h2":82.9},
      {"c":112,"a":80.9,"p":81.3,"l5":75.9,"h5":85.9,"l2":78.9,"h2":82.9},
      {"c":113,"a":80.6,"p":81.3,"l5":75.6,"h5":85.6,"l2":78.6,"h2":82.6},
      {"c":114,"a":80.3,"p":80.9,"l5":75.3,"h5":85.3,"l2":78.3,"h2":82.3},
      {"c":115,"a":80.1,"p":80.5,"l5":75.1,"h5":85.1,"l2":78.1,"h2":82.1},
      {"c":116,"a":80.1,"p":80.3,"l5":75.1,"h5":85.1,"l2":78.1,"h2":82.1},
      {"c":117,"a":80.1,"p":80.4,"l5":75.1,"h5":85.1,"l2":78.1,"h2":82.1},
      {"c":118,"a":81.2,"p":80.3,"l5":76.2,"h5":86.2,"l2":79.2,"h2":83.2},
      {"c":119,"a":81.4,"p":81.9,"l5":76.4,"h5":86.4,"l2":79.4,"h2":83.4},
      {"c":120,"a":80.4,"p":81.5,"l5":75.4,"h5":85.4,"l2":78.4,"h2":82.4},
      {"c":121,"a":79.8,"p":80.9,"l5":74.8,"h5":84.8,"l2":77.8,"h2":81.8},
      {"c":122,"a":79.5,"p":80.4,"l5":74.5,"h5":84.5,"l2":77.5,"h2":81.5},
      {"c":123,"a":79.3,"p":80,"l5":74.3,"h5":84.3,"l2":77.3,"h2":81.3},
      {"c":124,"a":79.1,"p":79.7,"l5":74.1,"h5":84.1,"l2":77.1,"h2":81.1},
      {"c":125,"a":78.9,"p":79.8,"l5":73.9,"h5":83.9,"l2":76.9,"h2":80.9},
      {"c":126,"a":78.8,"p":79.5,"l5":73.8,"h5":83.8,"l2":76.8,"h2":80.8},
      {"c":127,"a":78.6,"p":79.4,"l5":73.6,"h5":83.6,"l2":76.6,"h2":80.6},
      {"c":128,"a":78.4,"p":79.2,"l5":73.4,"h5":83.4,"l2":76.4,"h2":80.4},
      {"c":129,"a":78.2,"p":79.1,"l5":73.2,"h5":83.2,"l2":76.2,"h2":80.2},
      {"c":130,"a":78.2,"p":78.6,"l5":73.2,"h5":83.2,"l2":76.2,"h2":80.2},
      {"c":131,"a":78.5,"p":78.6,"l5":73.5,"h5":83.5,"l2":76.5,"h2":80.5},
      {"c":132,"a":79.1,"p":78.9,"l5":74.1,"h5":84.1,"l2":77.1,"h2":81.1},
      {"c":133,"a":78.4,"p":79.5,"l5":73.4,"h5":83.4,"l2":76.4,"h2":80.4},
      {"c":134,"a":78,"p":78.8,"l5":73,"h5":83,"l2":76,"h2":80},
      {"c":135,"a":77.8,"p":78.7,"l5":72.8,"h5":82.8,"l2":75.8,"h2":79.8},
      {"c":136,"a":77.7,"p":78.6,"l5":72.7,"h5":82.7,"l2":75.7,"h2":79.7},
      {"c":137,"a":77.5,"p":78.4,"l5":72.5,"h5":82.5,"l2":75.5,"h2":79.5},
      {"c":138,"a":77.2,"p":78.2,"l5":72.2,"h5":82.2,"l2":75.2,"h2":79.2},
      {"c":139,"a":76.9,"p":78,"l5":71.9,"h5":81.9,"l2":74.9,"h2":78.9},
      {"c":140,"a":76.7,"p":77.9,"l5":71.7,"h5":81.7,"l2":74.7,"h2":78.7},
      {"c":141,"a":76.6,"p":77.6,"l5":71.6,"h5":81.6,"l2":74.6,"h2":78.6},
      {"c":142,"a":76.5,"p":77.3,"l5":71.5,"h5":81.5,"l2":74.5,"h2":78.5},
      {"c":143,"a":76.3,"p":77.3,"l5":71.3,"h5":81.3,"l2":74.3,"h2":78.3},
      {"c":144,"a":76.1,"p":77.1,"l5":71.1,"h5":81.1,"l2":74.1,"h2":78.1},
      {"c":145,"a":76,"p":76.9,"l5":71,"h5":81,"l2":74,"h2":78},
      {"c":146,"a":75.9,"p":76.7,"l5":70.9,"h5":80.9,"l2":73.9,"h2":77.9},
      {"c":147,"a":76,"p":76.6,"l5":71,"h5":81,"l2":74,"h2":78},
      {"c":148,"a":76.2,"p":76.5,"l5":71.2,"h5":81.2,"l2":74.2,"h2":78.2},
      {"c":149,"a":77.6,"p":76.6,"l5":72.6,"h5":82.6,"l2":75.6,"h2":79.6},
      {"c":150,"a":77,"p":77.9,"l5":72,"h5":82,"l2":75,"h2":79},
      {"c":151,"a":76.6,"p":77.4,"l5":71.6,"h5":81.6,"l2":74.6,"h2":78.6},
      {"c":152,"a":76.3,"p":76.9,"l5":71.3,"h5":81.3,"l2":74.3,"h2":78.3},
      {"c":153,"a":75.9,"p":76.5,"l5":70.9,"h5":80.9,"l2":73.9,"h2":77.9},
      {"c":154,"a":75.7,"p":76.4,"l5":70.7,"h5":80.7,"l2":73.7,"h2":77.7},
      {"c":155,"a":75.5,"p":76.3,"l5":70.5,"h5":80.5,"l2":73.5,"h2":77.5},
      {"c":156,"a":75.4,"p":76.1,"l5":70.4,"h5":80.4,"l2":73.4,"h2":77.4},
      {"c":157,"a":75.2,"p":75.9,"l5":70.2,"h5":80.2,"l2":73.2,"h2":77.2},
      {"c":158,"a":75,"p":75.9,"l5":70,"h5":80,"l2":73,"h2":77},
      {"c":159,"a":74.8,"p":75.6,"l5":69.8,"h5":79.8,"l2":72.8,"h2":76.8},
      {"c":160,"a":74.6,"p":75.7,"l5":69.6,"h5":79.6,"l2":72.6,"h2":76.6},
      {"c":161,"a":74.5,"p":75.4,"l5":69.5,"h5":79.5,"l2":72.5,"h2":76.5},
      {"c":162,"a":74.4,"p":75.4,"l5":69.4,"h5":79.4,"l2":72.4,"h2":76.4},
      {"c":163,"a":74.3,"p":75.2,"l5":69.3,"h5":79.3,"l2":72.3,"h2":76.3},
      {"c":164,"a":74,"p":74.8,"l5":69,"h5":79,"l2":72,"h2":76},
      {"c":165,"a":75,"p":75.2,"l5":70,"h5":80,"l2":73,"h2":77},
      {"c":166,"a":75.9,"p":76,"l5":70.9,"h5":80.9,"l2":73.9,"h2":77.9}
    ],
    "D": [
      {"c":0,"a":100,"p":85.2,"l5":95,"h5":105,"l2":98,"h2":102},
      {"c":1,"a":99.4,"p":99.5,"l5":94.4,"h5":104.4,"l2":97.4,"h2":101.4},
      {"c":2,"a":99,"p":99.4,"l5":94,"h5":104,"l2":97,"h2":101},
      {"c":3,"a":98.8,"p":98.7,"l5":93.8,"h5":103.8,"l2":96.8,"h2":100.8},
      {"c":4,"a":98.9,"p":97.2,"l5":93.9,"h5":103.9,"l2":96.9,"h2":100.9},
      {"c":5,"a":98.4,"p":99.4,"l5":93.4,"h5":103.4,"l2":96.4,"h2":100.4},
      {"c":6,"a":98.1,"p":98.7,"l5":93.1,"h5":103.1,"l2":96.1,"h2":100.1},
      {"c":7,"a":97.6,"p":97.5,"l5":92.6,"h5":102.6,"l2":95.6,"h2":99.6},
      {"c":8,"a":97.3,"p":97.3,"l5":92.3,"h5":102.3,"l2":95.3,"h2":99.3},
      {"c":9,"a":98.3,"p":96,"l5":93.3,"h5":103.3,"l2":96.3,"h2":100.3},
      {"c":10,"a":97.7,"p":98.9,"l5":92.7,"h5":102.7,"l2":95.7,"h2":99.7},
      {"c":11,"a":97.3,"p":97.6,"l5":92.3,"h5":102.3,"l2":95.3,"h2":99.3},
      {"c":12,"a":96.6,"p":96.7,"l5":91.6,"h5":101.6,"l2":94.6,"h2":98.6},
      {"c":13,"a":96.3,"p":95.9,"l5":91.3,"h5":101.3,"l2":94.3,"h2":98.3},
      {"c":14,"a":96.1,"p":94.5,"l5":91.1,"h5":101.1,"l2":94.1,"h2":98.1},
      {"c":15,"a":95.6,"p":95.4,"l5":90.6,"h5":100.6,"l2":93.6,"h2":97.6},
      {"c":16,"a":94.8,"p":95.7,"l5":89.8,"h5":99.8,"l2":92.8,"h2":96.8},
      {"c":17,"a":94.3,"p":94.6,"l5":89.3,"h5":99.3,"l2":92.3,"h2":96.3},
      {"c":18,"a":94,"p":93.8,"l5":89,"h5":99,"l2":92,"h2":96},
      {"c":19,"a":93.6,"p":92.4,"l5":88.6,"h5":98.6,"l2":91.6,"h2":95.6},
      {"c":20,"a":92.9,"p":94.1,"l5":87.9,"h5":97.9,"l2":90.9,"h2":94.9},
      {"c":21,"a":92.1,"p":95.4,"l5":87.1,"h5":97.1,"l2":90.1,"h2":94.1},
      {"c":22,"a":92.2,"p":93.1,"l5":87.2,"h5":97.2,"l2":90.2,"h2":94.2},
      {"c":23,"a":92,"p":92.7,"l5":87,"h5":97,"l2":90,"h2":94},
      {"c":24,"a":94.4,"p":91.5,"l5":89.4,"h5":99.4,"l2":92.4,"h2":96.4},
      {"c":25,"a":93.4,"p":94.5,"l5":88.4,"h5":98.4,"l2":91.4,"h2":95.4},
      {"c":26,"a":92.8,"p":94.1,"l5":87.8,"h5":97.8,"l2":90.8,"h2":94.8},
      {"c":27,"a":92.2,"p":93.4,"l5":87.2,"h5":97.2,"l2":90.2,"h2":94.2},
      {"c":28,"a":91.5,"p":92.5,"l5":86.5,"h5":96.5,"l2":89.5,"h2":93.5},
      {"c":29,"a":91,"p":91,"l5":86,"h5":96,"l2":89,"h2":93},
      {"c":30,"a":90.5,"p":91.8,"l5":85.5,"h5":95.5,"l2":88.5,"h2":92.5},
      {"c":31,"a":90.3,"p":91.5,"l5":85.3,"h5":95.3,"l2":88.3,"h2":92.3},
      {"c":32,"a":89.7,"p":90.6,"l5":84.7,"h5":94.7,"l2":87.7,"h2":91.7},
      {"c":33,"a":89.2,"p":90.5,"l5":84.2,"h5":94.2,"l2":87.2,"h2":91.2},
      {"c":34,"a":88.8,"p":88.6,"l5":83.8,"h5":93.8,"l2":86.8,"h2":90.8},
      {"c":35,"a":88.2,"p":89.9,"l5":83.2,"h5":93.2,"l2":86.2,"h2":90.2},
      {"c":36,"a":87.7,"p":89.6,"l5":82.7,"h5":92.7,"l2":85.7,"h2":89.7},
      {"c":37,"a":87.4,"p":87.9,"l5":82.4,"h5":92.4,"l2":85.4,"h2":89.4},
      {"c":38,"a":86.9,"p":87.6,"l5":81.9,"h5":91.9,"l2":84.9,"h2":88.9},
      {"c":39,"a":90.5,"p":87.5,"l5":85.5,"h5":95.5,"l2":88.5,"h2":92.5},
      {"c":40,"a":89.1,"p":91.7,"l5":84.1,"h5":94.1,"l2":87.1,"h2":91.1},
      {"c":41,"a":88.2,"p":89.9,"l5":83.2,"h5":93.2,"l2":86.2,"h2":90.2},
      {"c":42,"a":87.3,"p":89.2,"l5":82.3,"h5":92.3,"l2":85.3,"h2":89.3},
      {"c":43,"a":86.8,"p":88.2,"l5":81.8,"h5":91.8,"l2":84.8,"h2":88.8},
      {"c":44,"a":85.9,"p":86.3,"l5":80.9,"h5":90.9,"l2":83.9,"h2":87.9},
      {"c":45,"a":93.1,"p":88.4,"l5":88.1,"h5":98.1,"l2":91.1,"h2":95.1},
      {"c":46,"a":92.5,"p":94.1,"l5":87.5,"h5":97.5,"l2":90.5,"h2":94.5},
      {"c":47,"a":91.3,"p":92.7,"l5":86.3,"h5":96.3,"l2":89.3,"h2":93.3},
      {"c":48,"a":90.4,"p":92.3,"l5":85.4,"h5":95.4,"l2":88.4,"h2":92.4},
      {"c":49,"a":89.6,"p":91.2,"l5":84.6,"h5":94.6,"l2":87.6,"h2":91.6},
      {"c":50,"a":89.7,"p":90,"l5":84.7,"h5":94.7,"l2":87.7,"h2":91.7},
      {"c":51,"a":88.9,"p":90,"l5":83.9,"h5":93.9,"l2":86.9,"h2":90.9},
      {"c":52,"a":87.9,"p":92.5,"l5":82.9,"h5":92.9,"l2":85.9,"h2":89.9},
      {"c":53,"a":87.1,"p":90.4,"l5":82.1,"h5":92.1,"l2":85.1,"h2":89.1},
      {"c":54,"a":86.5,"p":88.3,"l5":81.5,"h5":91.5,"l2":84.5,"h2":88.5},
      {"c":55,"a":90.4,"p":86,"l5":85.4,"h5":95.4,"l2":88.4,"h2":92.4},
      {"c":56,"a":88.8,"p":91.5,"l5":83.8,"h5":93.8,"l2":86.8,"h2":90.8},
      {"c":57,"a":86.9,"p":88.7,"l5":81.9,"h5":91.9,"l2":84.9,"h2":88.9},
      {"c":58,"a":85.8,"p":89.7,"l5":80.8,"h5":90.8,"l2":83.8,"h2":87.8},
      {"c":59,"a":85.4,"p":86.7,"l5":80.4,"h5":90.4,"l2":83.4,"h2":87.4},
      {"c":60,"a":85.1,"p":84.9,"l5":80.1,"h5":90.1,"l2":83.1,"h2":87.1},
      {"c":61,"a":84.2,"p":85.3,"l5":79.2,"h5":89.2,"l2":82.2,"h2":86.2},
      {"c":62,"a":83.6,"p":84.9,"l5":78.6,"h5":88.6,"l2":81.6,"h2":85.6},
      {"c":63,"a":83,"p":83.5,"l5":78,"h5":88,"l2":81,"h2":85},
      {"c":64,"a":82.6,"p":84.4,"l5":77.6,"h5":87.6,"l2":80.6,"h2":84.6},
      {"c":65,"a":82.5,"p":81.8,"l5":77.5,"h5":87.5,"l2":80.5,"h2":84.5},
      {"c":66,"a":81.9,"p":82.9,"l5":76.9,"h5":86.9,"l2":79.9,"h2":83.9},
      {"c":67,"a":81.2,"p":82.5,"l5":76.2,"h5":86.2,"l2":79.2,"h2":83.2},
      {"c":68,"a":81.1,"p":81.9,"l5":76.1,"h5":86.1,"l2":79.1,"h2":83.1},
      {"c":69,"a":80.6,"p":81.8,"l5":75.6,"h5":85.6,"l2":78.6,"h2":82.6},
      {"c":70,"a":82.8,"p":80.2,"l5":77.8,"h5":87.8,"l2":80.8,"h2":84.8},
      {"c":71,"a":82.1,"p":84.1,"l5":77.1,"h5":87.1,"l2":80.1,"h2":84.1},
      {"c":72,"a":81.1,"p":82,"l5":76.1,"h5":86.1,"l2":79.1,"h2":83.1},
      {"c":73,"a":80.5,"p":81.9,"l5":75.5,"h5":85.5,"l2":78.5,"h2":82.5},
      {"c":74,"a":79.9,"p":81.8,"l5":74.9,"h5":84.9,"l2":77.9,"h2":81.9},
      {"c":75,"a":79.6,"p":79.2,"l5":74.6,"h5":84.6,"l2":77.6,"h2":81.6},
      {"c":76,"a":79.2,"p":80,"l5":74.2,"h5":84.2,"l2":77.2,"h2":81.2},
      {"c":77,"a":78.9,"p":79.7,"l5":73.9,"h5":83.9,"l2":76.9,"h2":80.9},
      {"c":78,"a":78.4,"p":79.5,"l5":73.4,"h5":83.4,"l2":76.4,"h2":80.4},
      {"c":79,"a":78,"p":78.9,"l5":73,"h5":83,"l2":76,"h2":80},
      {"c":80,"a":78.2,"p":77.6,"l5":73.2,"h5":83.2,"l2":76.2,"h2":80.2},
      {"c":81,"a":77.7,"p":78.4,"l5":72.7,"h5":82.7,"l2":75.7,"h2":79.7},
      {"c":82,"a":77.5,"p":78,"l5":72.5,"h5":82.5,"l2":75.5,"h2":79.5},
      {"c":83,"a":77.1,"p":77.7,"l5":72.1,"h5":82.1,"l2":75.1,"h2":79.1},
      {"c":84,"a":76.8,"p":78.6,"l5":71.8,"h5":81.8,"l2":74.8,"h2":78.8},
      {"c":85,"a":79.4,"p":76.3,"l5":74.4,"h5":84.4,"l2":77.4,"h2":81.4},
      {"c":86,"a":78.6,"p":81.2,"l5":73.6,"h5":83.6,"l2":76.6,"h2":80.6},
      {"c":87,"a":77.7,"p":79.4,"l5":72.7,"h5":82.7,"l2":75.7,"h2":79.7},
      {"c":88,"a":76.9,"p":78.8,"l5":71.9,"h5":81.9,"l2":74.9,"h2":78.9},
      {"c":89,"a":76.3,"p":78,"l5":71.3,"h5":81.3,"l2":74.3,"h2":78.3},
      {"c":90,"a":78.6,"p":75.4,"l5":73.6,"h5":83.6,"l2":76.6,"h2":80.6},
      {"c":91,"a":77.1,"p":78.8,"l5":72.1,"h5":82.1,"l2":75.1,"h2":79.1},
      {"c":92,"a":76.6,"p":78,"l5":71.6,"h5":81.6,"l2":74.6,"h2":78.6},
      {"c":93,"a":76.3,"p":78.1,"l5":71.3,"h5":81.3,"l2":74.3,"h2":78.3},
      {"c":94,"a":75.8,"p":77.3,"l5":70.8,"h5":80.8,"l2":73.8,"h2":77.8},
      {"c":95,"a":75.8,"p":76.1,"l5":70.8,"h5":80.8,"l2":73.8,"h2":77.8},
      {"c":96,"a":75.2,"p":77.4,"l5":70.2,"h5":80.2,"l2":73.2,"h2":77.2},
      {"c":97,"a":75,"p":76.9,"l5":70,"h5":80,"l2":73,"h2":77},
      {"c":98,"a":74.6,"p":75.6,"l5":69.6,"h5":79.6,"l2":72.6,"h2":76.6},
      {"c":99,"a":74.2,"p":75.7,"l5":69.2,"h5":79.2,"l2":72.2,"h2":76.2},
      {"c":100,"a":74.3,"p":74.3,"l5":69.3,"h5":79.3,"l2":72.3,"h2":76.3},
      {"c":101,"a":73.8,"p":76.3,"l5":68.8,"h5":78.8,"l2":71.8,"h2":75.8},
      {"c":102,"a":74,"p":76.1,"l5":69,"h5":79,"l2":72,"h2":76},
      {"c":103,"a":73.7,"p":75.7,"l5":68.7,"h5":78.7,"l2":71.7,"h2":75.7},
      {"c":104,"a":73,"p":75.1,"l5":68,"h5":78,"l2":71,"h2":75},
      {"c":105,"a":78.9,"p":74.1,"l5":73.9,"h5":83.9,"l2":76.9,"h2":80.9},
      {"c":106,"a":78.1,"p":79.9,"l5":73.1,"h5":83.1,"l2":76.1,"h2":80.1},
      {"c":107,"a":77.5,"p":79.2,"l5":72.5,"h5":82.5,"l2":75.5,"h2":79.5},
      {"c":108,"a":76.9,"p":78.8,"l5":71.9,"h5":81.9,"l2":74.9,"h2":78.9},
      {"c":109,"a":76.4,"p":77.7,"l5":71.4,"h5":81.4,"l2":74.4,"h2":78.4},
      {"c":110,"a":76.3,"p":77.2,"l5":71.3,"h5":81.3,"l2":74.3,"h2":78.3},
      {"c":111,"a":75.6,"p":77.3,"l5":70.6,"h5":80.6,"l2":73.6,"h2":77.6},
      {"c":112,"a":75.3,"p":76.1,"l5":70.3,"h5":80.3,"l2":73.3,"h2":77.3},
      {"c":113,"a":75,"p":77.5,"l5":70,"h5":80,"l2":73,"h2":77},
      {"c":114,"a":74.8,"p":77.6,"l5":69.8,"h5":79.8,"l2":72.8,"h2":76.8},
      {"c":115,"a":74.9,"p":75.8,"l5":69.9,"h5":79.9,"l2":72.9,"h2":76.9},
      {"c":116,"a":74.2,"p":76,"l5":69.2,"h5":79.2,"l2":72.2,"h2":76.2},
      {"c":117,"a":73.6,"p":74.8,"l5":68.6,"h5":78.6,"l2":71.6,"h2":75.6},
      {"c":118,"a":73.3,"p":75.4,"l5":68.3,"h5":78.3,"l2":71.3,"h2":75.3},
      {"c":119,"a":72.6,"p":74.6,"l5":67.6,"h5":77.6,"l2":70.6,"h2":74.6},
      {"c":120,"a":76.9,"p":72.8,"l5":71.9,"h5":81.9,"l2":74.9,"h2":78.9},
      {"c":121,"a":75.9,"p":77.6,"l5":70.9,"h5":80.9,"l2":73.9,"h2":77.9},
      {"c":122,"a":75.3,"p":76.9,"l5":70.3,"h5":80.3,"l2":73.3,"h2":77.3},
      {"c":123,"a":74.9,"p":76.6,"l5":69.9,"h5":79.9,"l2":72.9,"h2":76.9},
      {"c":124,"a":73.8,"p":76.1,"l5":68.8,"h5":78.8,"l2":71.8,"h2":75.8},
      {"c":125,"a":74.3,"p":75.7,"l5":69.3,"h5":79.3,"l2":72.3,"h2":76.3},
      {"c":126,"a":73.6,"p":75.1,"l5":68.6,"h5":78.6,"l2":71.6,"h2":75.6},
      {"c":127,"a":73.4,"p":75.4,"l5":68.4,"h5":78.4,"l2":71.4,"h2":75.4},
      {"c":128,"a":73.5,"p":74.8,"l5":68.5,"h5":78.5,"l2":71.5,"h2":75.5},
      {"c":129,"a":72.8,"p":74.8,"l5":67.8,"h5":77.8,"l2":70.8,"h2":74.8},
      {"c":130,"a":72.9,"p":75.2,"l5":67.9,"h5":77.9,"l2":70.9,"h2":74.9},
      {"c":131,"a":72.2,"p":74.5,"l5":67.2,"h5":77.2,"l2":70.2,"h2":74.2}
    ]
  },
  "vconcat": [
    {
      "hconcat": [
        {
          "title": {"text": "(a) Battery 5—training", "orient": "bottom", "anchor": "middle", "font": "Liberation Serif", "fontSize": 57, "fontWeight": "normal", "offset": 56, "dx": 22},
          "resolve": {"scale": {"color": "independent"}},
          "vconcat": [
            {
              "width": 1766, "height": 998,
              "title": {"text": "Experiment II - Train B5"},
              "layer": [
                {
                  "data": {"name": "A"},
                  "mark": {"type": "area", "opacity": 0.2},
                  "encoding": {
                    "x": {"field": "c", "type": "quantitative", "scale": {"domain": [-5.2, 172], "nice": false, "zero": false}, "axis": {"title": "Cycle Index", "values": [0, 20, 40, 60, 80, 100, 120, 140, 160]}},
                    "y": {"field": "l5", "type": "quantitative", "scale": {"domain": [50, 110], "nice": false, "zero": false}, "axis": {"title": "SOH (%)", "values": [50, 60, 70, 80, 90, 100, 110]}},
                    "y2": {"field": "h5"},
                    "color": {
                      "datum": "±5% Error Band", "type": "nominal",
                      "scale": {"domain": ["±5% Error Band", "±2% Error Band", "Train Actual", "Train Prediction"], "range": ["#808080", "#808080", "#25276f", "#8b1a1e"]},
                      "legend": {
                        "title": null, "orient": "top-right",
                        "encoding": {"symbols": {
                          "shape": {"value": {"expr": "datum.index < 2 ? 'M-0.86,-1H4.24V1H-0.86Z' : 'M-1,-0.345H4.38V0.345H-1Z'"}},
                          "size": {"value": 841},
                          "stroke": {"value": "transparent"},
                          "strokeWidth": {"value": 0},
                          "opacity": {"value": {"expr": "datum.index == 0 ? 0.2 : datum.index == 1 ? 0.35 : 1"}},
                          "fillOpacity": {"value": 1}
                        }},
                        "encode": {"symbols": {"update": {
                          "shape": {"signal": "datum.index < 2 ? 'M-0.86,-1H4.24V1H-0.86Z' : 'M-1,-0.345H4.38V0.345H-1Z'"},
                          "size": {"value": 841},
                          "stroke": {"value": "transparent"},
                          "strokeWidth": {"value": 0},
                          "opacity": {"signal": "datum.index == 0 ? 0.2 : datum.index == 1 ? 0.35 : 1"},
                          "fillOpacity": {"value": 1}
                        }}}
                      }
                    }
                  }
                },
                {
                  "data": {"name": "A"},
                  "mark": {"type": "area", "opacity": 0.35},
                  "encoding": {
                    "x": {"field": "c", "type": "quantitative"},
                    "y": {"field": "l2", "type": "quantitative"},
                    "y2": {"field": "h2"},
                    "color": {"datum": "±2% Error Band", "type": "nominal"}
                  }
                },
                {
                  "data": {"name": "A"},
                  "mark": {"type": "line", "strokeWidth": 9, "strokeJoin": "round"},
                  "encoding": {
                    "x": {"field": "c", "type": "quantitative"},
                    "y": {"field": "a", "type": "quantitative"},
                    "color": {"datum": "Train Actual", "type": "nominal"}
                  }
                },
                {
                  "data": {"name": "A"},
                  "mark": {"type": "line", "strokeWidth": 9, "strokeJoin": "round"},
                  "encoding": {
                    "x": {"field": "c", "type": "quantitative"},
                    "y": {"field": "p", "type": "quantitative"},
                    "color": {"datum": "Train Prediction", "type": "nominal"}
                  }
                }
              ]
            }
          ]
        },
        {
          "title": {"text": "(b) Battery 6—test", "orient": "bottom", "anchor": "middle", "font": "Liberation Serif", "fontSize": 60, "fontWeight": "normal", "offset": 56},
          "resolve": {"scale": {"color": "independent"}},
          "vconcat": [
            {
              "width": 1766, "height": 998,
              "title": {"text": "Experiment II - Test B6"},
              "layer": [
                {
                  "data": {"values": [{"s": 0, "e": 166}]},
                  "mark": {"type": "rect", "fill": "#eeee66", "opacity": 0.14},
                  "encoding": {
                    "x": {"field": "s", "type": "quantitative", "scale": {"domain": [-5.2, 172], "nice": false, "zero": false}, "axis": {"title": "Cycle Index", "values": [0, 20, 40, 60, 80, 100, 120, 140, 160]}},
                    "x2": {"field": "e"}
                  }
                },
                {
                  "data": {"name": "B"},
                  "mark": {"type": "area", "opacity": 0.2},
                  "encoding": {
                    "x": {"field": "c", "type": "quantitative"},
                    "y": {"field": "l5", "type": "quantitative", "scale": {"domain": [50, 110], "nice": false, "zero": false}, "axis": {"title": "SOH (%)", "values": [50, 60, 70, 80, 90, 100, 110]}},
                    "y2": {"field": "h5"},
                    "color": {
                      "datum": "±5% Error Band", "type": "nominal",
                      "scale": {"domain": ["±5% Error Band", "±2% Error Band", "Test Actual", "Test Prediction"], "range": ["#808080", "#808080", "#3153a4", "#ee1d27"]},
                      "legend": {
                        "title": null, "orient": "top-right",
                        "encoding": {"symbols": {
                          "shape": {"value": {"expr": "datum.index < 2 ? 'M-0.86,-1H4.24V1H-0.86Z' : 'M-1,-0.345H4.38V0.345H-1Z'"}},
                          "size": {"value": 841},
                          "stroke": {"value": "transparent"},
                          "strokeWidth": {"value": 0},
                          "opacity": {"value": {"expr": "datum.index == 0 ? 0.2 : datum.index == 1 ? 0.35 : 1"}},
                          "fillOpacity": {"value": 1}
                        }},
                        "encode": {"symbols": {"update": {
                          "shape": {"signal": "datum.index < 2 ? 'M-0.86,-1H4.24V1H-0.86Z' : 'M-1,-0.345H4.38V0.345H-1Z'"},
                          "size": {"value": 841},
                          "stroke": {"value": "transparent"},
                          "strokeWidth": {"value": 0},
                          "opacity": {"signal": "datum.index == 0 ? 0.2 : datum.index == 1 ? 0.35 : 1"},
                          "fillOpacity": {"value": 1}
                        }}}
                      }
                    }
                  }
                },
                {
                  "data": {"name": "B"},
                  "mark": {"type": "area", "opacity": 0.35},
                  "encoding": {
                    "x": {"field": "c", "type": "quantitative"},
                    "y": {"field": "l2", "type": "quantitative"},
                    "y2": {"field": "h2"},
                    "color": {"datum": "±2% Error Band", "type": "nominal"}
                  }
                },
                {
                  "data": {"name": "B"},
                  "mark": {"type": "line", "strokeWidth": 9, "strokeJoin": "round"},
                  "encoding": {
                    "x": {"field": "c", "type": "quantitative"},
                    "y": {"field": "a", "type": "quantitative"},
                    "color": {"datum": "Test Actual", "type": "nominal"}
                  }
                },
                {
                  "data": {"name": "B"},
                  "mark": {"type": "line", "strokeWidth": 9, "strokeJoin": "round"},
                  "encoding": {
                    "x": {"field": "c", "type": "quantitative"},
                    "y": {"field": "p", "type": "quantitative"},
                    "color": {"datum": "Test Prediction", "type": "nominal"}
                  }
                }
              ]
            }
          ]
        }
      ],
      "spacing": 114,
      "resolve": {"scale": {"color": "independent"}}
    },
    {
      "hconcat": [
        {
          "title": {"text": "(c) Battery 7—test", "orient": "bottom", "anchor": "middle", "font": "Liberation Serif", "fontSize": 60, "fontWeight": "normal", "offset": 56},
          "resolve": {"scale": {"color": "independent"}},
          "vconcat": [
            {
              "width": 1766, "height": 998,
              "title": {"text": "Experiment II - Test B7"},
              "layer": [
                {
                  "data": {"values": [{"s": 0, "e": 166}]},
                  "mark": {"type": "rect", "fill": "#eeee66", "opacity": 0.14},
                  "encoding": {
                    "x": {"field": "s", "type": "quantitative", "scale": {"domain": [-5.2, 172], "nice": false, "zero": false}, "axis": {"title": "Cycle Index", "values": [0, 20, 40, 60, 80, 100, 120, 140, 160]}},
                    "x2": {"field": "e"}
                  }
                },
                {
                  "data": {"name": "C"},
                  "mark": {"type": "area", "opacity": 0.2},
                  "encoding": {
                    "x": {"field": "c", "type": "quantitative"},
                    "y": {"field": "l5", "type": "quantitative", "scale": {"domain": [50, 110], "nice": false, "zero": false}, "axis": {"title": "SOH (%)", "values": [50, 60, 70, 80, 90, 100, 110]}},
                    "y2": {"field": "h5"},
                    "color": {
                      "datum": "±5% Error Band", "type": "nominal",
                      "scale": {"domain": ["±5% Error Band", "±2% Error Band", "Test Actual", "Test Prediction"], "range": ["#808080", "#808080", "#3153a4", "#ee1d27"]},
                      "legend": {
                        "title": null, "orient": "top-right",
                        "encoding": {"symbols": {
                          "shape": {"value": {"expr": "datum.index < 2 ? 'M-0.86,-1H4.24V1H-0.86Z' : 'M-1,-0.345H4.38V0.345H-1Z'"}},
                          "size": {"value": 841},
                          "stroke": {"value": "transparent"},
                          "strokeWidth": {"value": 0},
                          "opacity": {"value": {"expr": "datum.index == 0 ? 0.2 : datum.index == 1 ? 0.35 : 1"}},
                          "fillOpacity": {"value": 1}
                        }},
                        "encode": {"symbols": {"update": {
                          "shape": {"signal": "datum.index < 2 ? 'M-0.86,-1H4.24V1H-0.86Z' : 'M-1,-0.345H4.38V0.345H-1Z'"},
                          "size": {"value": 841},
                          "stroke": {"value": "transparent"},
                          "strokeWidth": {"value": 0},
                          "opacity": {"signal": "datum.index == 0 ? 0.2 : datum.index == 1 ? 0.35 : 1"},
                          "fillOpacity": {"value": 1}
                        }}}
                      }
                    }
                  }
                },
                {
                  "data": {"name": "C"},
                  "mark": {"type": "area", "opacity": 0.35},
                  "encoding": {
                    "x": {"field": "c", "type": "quantitative"},
                    "y": {"field": "l2", "type": "quantitative"},
                    "y2": {"field": "h2"},
                    "color": {"datum": "±2% Error Band", "type": "nominal"}
                  }
                },
                {
                  "data": {"name": "C"},
                  "mark": {"type": "line", "strokeWidth": 9, "strokeJoin": "round"},
                  "encoding": {
                    "x": {"field": "c", "type": "quantitative"},
                    "y": {"field": "a", "type": "quantitative"},
                    "color": {"datum": "Test Actual", "type": "nominal"}
                  }
                },
                {
                  "data": {"name": "C"},
                  "mark": {"type": "line", "strokeWidth": 9, "strokeJoin": "round"},
                  "encoding": {
                    "x": {"field": "c", "type": "quantitative"},
                    "y": {"field": "p", "type": "quantitative"},
                    "color": {"datum": "Test Prediction", "type": "nominal"}
                  }
                }
              ]
            }
          ]
        },
        {
          "title": {"text": "(d) Battery 18—test", "orient": "bottom", "anchor": "middle", "font": "Liberation Serif", "fontSize": 60, "fontWeight": "normal", "offset": 56},
          "resolve": {"scale": {"color": "independent"}},
          "vconcat": [
            {
              "width": 1766, "height": 998,
              "title": {"text": "Experiment II - Test B18"},
              "layer": [
                {
                  "data": {"values": [{"s": 0, "e": 131}]},
                  "mark": {"type": "rect", "fill": "#eeee66", "opacity": 0.14},
                  "encoding": {
                    "x": {"field": "s", "type": "quantitative", "scale": {"domain": [-5.2, 137.1], "nice": false, "zero": false}, "axis": {"title": "Cycle Index", "values": [0, 20, 40, 60, 80, 100, 120]}},
                    "x2": {"field": "e"}
                  }
                },
                {
                  "data": {"name": "D"},
                  "mark": {"type": "area", "opacity": 0.2},
                  "encoding": {
                    "x": {"field": "c", "type": "quantitative"},
                    "y": {"field": "l5", "type": "quantitative", "scale": {"domain": [50, 110], "nice": false, "zero": false}, "axis": {"title": "SOH (%)", "values": [50, 60, 70, 80, 90, 100, 110]}},
                    "y2": {"field": "h5"},
                    "color": {
                      "datum": "±5% Error Band", "type": "nominal",
                      "scale": {"domain": ["±5% Error Band", "±2% Error Band", "Test Actual", "Test Prediction"], "range": ["#808080", "#808080", "#3153a4", "#ee1d27"]},
                      "legend": {
                        "title": null, "orient": "top-right",
                        "encoding": {"symbols": {
                          "shape": {"value": {"expr": "datum.index < 2 ? 'M-0.86,-1H4.24V1H-0.86Z' : 'M-1,-0.345H4.38V0.345H-1Z'"}},
                          "size": {"value": 841},
                          "stroke": {"value": "transparent"},
                          "strokeWidth": {"value": 0},
                          "opacity": {"value": {"expr": "datum.index == 0 ? 0.2 : datum.index == 1 ? 0.35 : 1"}},
                          "fillOpacity": {"value": 1}
                        }},
                        "encode": {"symbols": {"update": {
                          "shape": {"signal": "datum.index < 2 ? 'M-0.86,-1H4.24V1H-0.86Z' : 'M-1,-0.345H4.38V0.345H-1Z'"},
                          "size": {"value": 841},
                          "stroke": {"value": "transparent"},
                          "strokeWidth": {"value": 0},
                          "opacity": {"signal": "datum.index == 0 ? 0.2 : datum.index == 1 ? 0.35 : 1"},
                          "fillOpacity": {"value": 1}
                        }}}
                      }
                    }
                  }
                },
                {
                  "data": {"name": "D"},
                  "mark": {"type": "area", "opacity": 0.35},
                  "encoding": {
                    "x": {"field": "c", "type": "quantitative"},
                    "y": {"field": "l2", "type": "quantitative"},
                    "y2": {"field": "h2"},
                    "color": {"datum": "±2% Error Band", "type": "nominal"}
                  }
                },
                {
                  "data": {"name": "D"},
                  "mark": {"type": "line", "strokeWidth": 9, "strokeJoin": "round"},
                  "encoding": {
                    "x": {"field": "c", "type": "quantitative"},
                    "y": {"field": "a", "type": "quantitative"},
                    "color": {"datum": "Test Actual", "type": "nominal"}
                  }
                },
                {
                  "data": {"name": "D"},
                  "mark": {"type": "line", "strokeWidth": 9, "strokeJoin": "round"},
                  "encoding": {
                    "x": {"field": "c", "type": "quantitative"},
                    "y": {"field": "p", "type": "quantitative"},
                    "color": {"datum": "Test Prediction", "type": "nominal"}
                  }
                }
              ]
            }
          ]
        }
      ],
      "spacing": 114,
      "resolve": {"scale": {"color": "independent"}}
    }
  ],
  "spacing": 125,
  "resolve": {"scale": {"color": "independent"}},
  "config": {
    "font": "DejaVu Sans",
    "view": {"stroke": "#222222", "strokeWidth": 3.5},
    "axis": {
      "domain": false, "grid": true, "gridColor": "#b5b5b8", "gridWidth": 3.3,
      "tickColor": "#222222", "tickWidth": 3.3, "tickSize": 10,
      "labelFont": "DejaVu Sans", "labelFontSize": 34, "labelFontWeight": "bold", "labelColor": "#222222", "labelPadding": 12,
      "labelFlush": false, "labelOverlap": false,
      "titleFont": "DejaVu Sans", "titleFontSize": 41, "titleFontWeight": "bold", "titleColor": "#222222", "titlePadding": 14
    },
    "legend": {
      "orient": "top-right", "offset": 16, "padding": 13,
      "fillColor": "rgba(255,255,255,0.8)", "strokeColor": "#d4d4d4", "strokeWidth": 3, "cornerRadius": 8,
      "labelFont": "DejaVu Sans", "labelFontSize": 34, "labelFontWeight": "bold", "labelColor": "#222222",
      "labelOffset": 74, "labelLimit": 600, "rowPadding": 17, "symbolSize": 841
    },
    "title": {"font": "DejaVu Sans", "fontSize": 41, "fontWeight": "bold", "color": "#222222", "offset": -4}
  }
}
